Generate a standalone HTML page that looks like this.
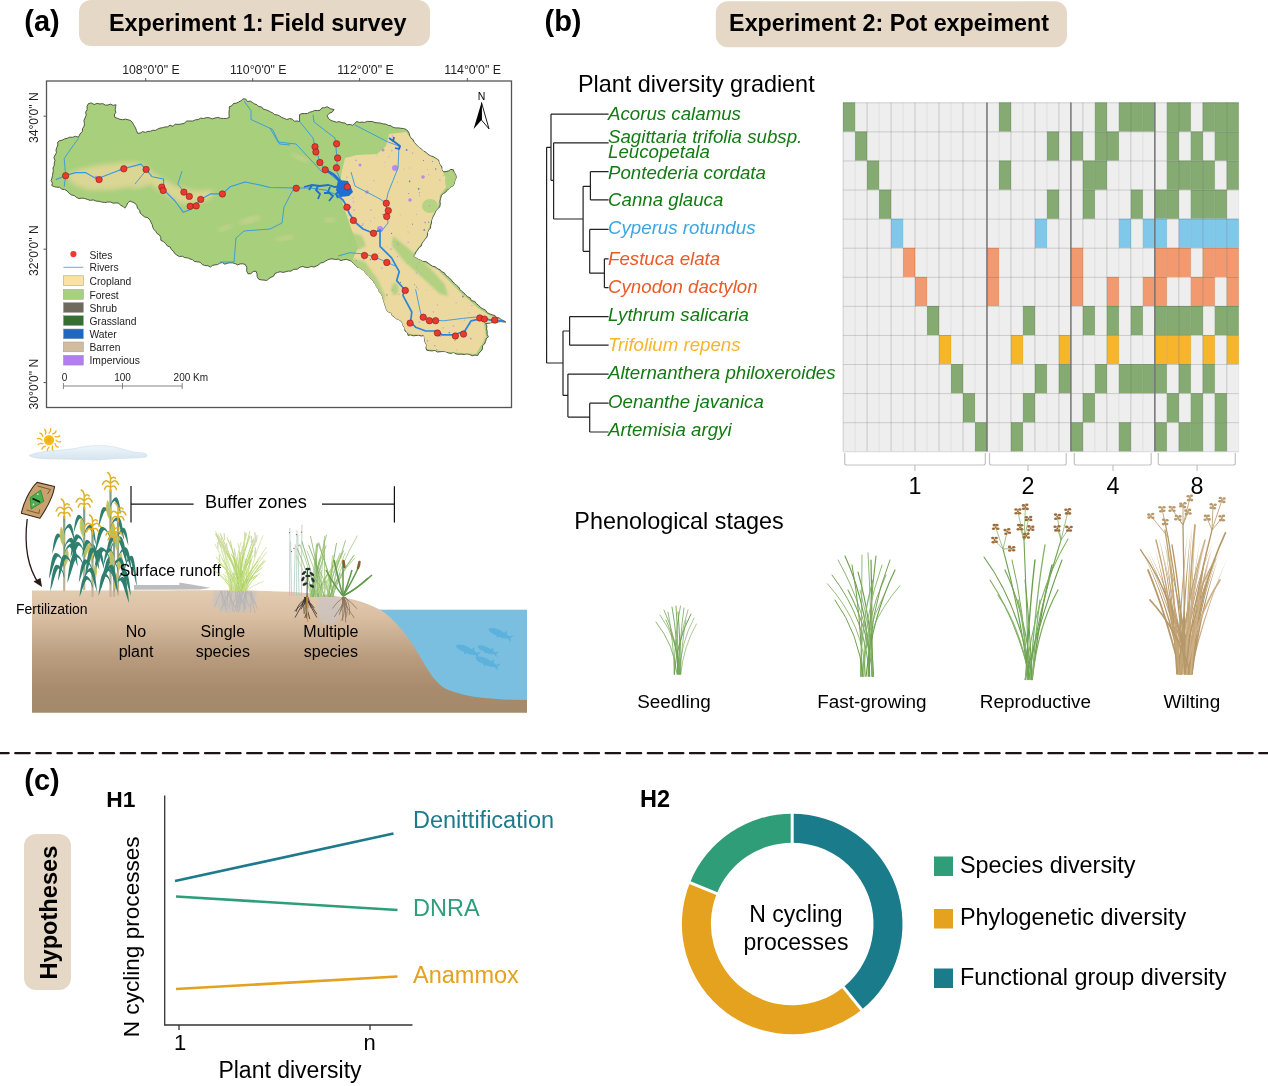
<!DOCTYPE html><html><head><meta charset="utf-8"><style>html,body{margin:0;padding:0;background:#fff;width:1268px;height:1086px;overflow:hidden}svg{display:block;position:absolute;left:0;top:0;will-change:transform}text{font-family:"Liberation Sans",sans-serif}</style></head><body>
<svg width="1268" height="1086" viewBox="0 0 1268 1086">
<defs><filter id="blur1" x="-30%" y="-30%" width="160%" height="160%"><feGaussianBlur stdDeviation="1.2"/></filter></defs>
<rect x="79" y="0" width="351" height="46" rx="12" fill="#e6d8c7"/>
<rect x="715.8" y="1.3" width="351.2" height="46" rx="12" fill="#e6d8c7"/>
<text x="24.3" y="31" font-size="29" font-weight="bold">(a)</text>
<text x="544.5" y="31" font-size="29" font-weight="bold">(b)</text>
<text x="24.3" y="790" font-size="29" font-weight="bold">(c)</text>
<text x="257.8" y="31" font-size="23.4" font-weight="bold" text-anchor="middle">Experiment 1: Field survey</text>
<text x="889" y="31" font-size="23.3" font-weight="bold" text-anchor="middle">Experiment 2: Pot expeiment</text>
<g id="map">
<rect x="46.5" y="81" width="465" height="326.5" fill="none" stroke="#555" stroke-width="1.3"/>
<line x1="145.7" y1="78" x2="145.7" y2="81" stroke="#555" stroke-width="1"/>
<line x1="252.7" y1="78" x2="252.7" y2="81" stroke="#555" stroke-width="1"/>
<line x1="359.6" y1="78" x2="359.6" y2="81" stroke="#555" stroke-width="1"/>
<line x1="467.3" y1="78" x2="467.3" y2="81" stroke="#555" stroke-width="1"/>
<line x1="43.5" y1="116.2" x2="46.5" y2="116.2" stroke="#555" stroke-width="1"/>
<line x1="43.5" y1="249.2" x2="46.5" y2="249.2" stroke="#555" stroke-width="1"/>
<line x1="43.5" y1="382.6" x2="46.5" y2="382.6" stroke="#555" stroke-width="1"/>
<text x="150.9" y="74" font-size="12.3" text-anchor="middle" fill="#222">108°0'0" E</text>
<text x="258.3" y="74" font-size="12.3" text-anchor="middle" fill="#222">110°0'0" E</text>
<text x="365.4" y="74" font-size="12.3" text-anchor="middle" fill="#222">112°0'0" E</text>
<text x="472.6" y="74" font-size="12.3" text-anchor="middle" fill="#222">114°0'0" E</text>
<text transform="translate(38.3,117.7) rotate(-90)" font-size="12.2" text-anchor="middle" fill="#222">34°0'0" N</text>
<text transform="translate(38.3,250.7) rotate(-90)" font-size="12.2" text-anchor="middle" fill="#222">32°0'0" N</text>
<text transform="translate(38.3,384.1) rotate(-90)" font-size="12.2" text-anchor="middle" fill="#222">30°0'0" N</text>
<polygon points="52.0,178.0 52.5,175.5 52.9,173.0 53.3,170.6 53.0,168.0 54.2,165.6 54.3,162.9 55.0,160.4 53.9,157.6 55.1,155.1 56.4,152.7 56.0,150.0 56.8,147.5 57.8,145.0 57.7,142.2 59.8,140.6 62.4,140.1 64.7,138.8 67.3,138.3 69.6,137.2 72.5,137.3 75.5,136.3 78.4,137.2 80.0,134.0 82.4,131.3 82.5,128.6 84.2,126.1 84.4,123.4 83.9,120.5 85.0,118.0 86.2,115.3 85.7,112.1 87.2,109.5 87.0,106.4 88.3,103.7 91.2,102.9 94.1,104.5 97.1,103.4 100.0,104.0 102.7,103.6 105.3,105.1 107.9,105.0 110.6,104.1 113.2,105.4 115.9,104.7 115.6,107.3 115.2,109.8 115.8,112.4 114.3,114.9 114.9,117.5 117.5,118.3 120.0,119.3 122.7,119.7 125.5,119.1 128.1,119.8 130.7,120.5 132.6,122.8 134.0,125.3 135.5,127.8 136.5,130.6 137.6,133.3 140.2,133.1 142.6,131.6 145.3,132.4 147.8,131.4 150.4,131.3 152.7,130.3 155.4,130.4 157.7,129.1 160.0,128.1 162.6,127.7 165.0,127.0 167.7,126.8 170.0,125.2 173.0,126.3 175.2,124.1 178.0,124.4 181.1,124.0 184.2,123.3 186.8,121.0 190.0,121.0 192.8,121.0 195.4,119.8 198.2,119.6 200.7,118.1 203.6,118.5 206.4,117.6 209.3,117.7 212.2,118.9 215.0,118.0 217.8,117.4 220.7,118.3 223.6,118.5 226.5,118.4 229.3,117.5 229.0,114.8 229.0,112.1 229.3,109.4 229.3,106.7 231.8,105.8 233.5,103.5 236.4,103.1 238.8,101.9 241.1,100.7 243.1,98.8 245.7,99.0 247.4,101.5 250.3,101.1 252.4,102.5 254.5,103.9 256.9,104.7 258.7,106.6 261.5,106.9 263.2,109.1 265.7,109.7 268.1,110.6 270.3,111.8 272.7,112.9 274.6,114.6 277.3,114.9 279.6,115.9 281.8,117.5 284.3,118.4 286.7,119.5 289.6,118.6 292.1,119.0 294.3,121.2 297.0,121.0 299.6,121.5 299.4,118.0 299.6,114.6 302.0,113.6 304.7,113.6 307.3,113.5 309.7,112.2 312.2,111.6 314.6,110.4 317.3,110.6 320.0,110.3 321.9,107.9 324.7,107.7 327.2,106.7 330.4,108.7 334.1,109.6 332.2,112.1 329.2,113.3 327.2,115.6 328.5,118.6 331.1,120.5 333.8,121.3 336.4,122.2 339.4,121.6 342.0,122.8 344.8,122.9 347.2,124.8 350.2,124.4 352.8,125.4 354.7,123.4 356.8,121.5 359.4,122.4 362.0,122.1 364.6,122.4 367.3,121.4 369.9,121.5 372.5,121.5 375.0,122.6 377.8,122.8 380.5,123.1 383.1,123.9 385.8,124.1 388.3,125.4 390.9,125.8 393.2,127.4 395.7,127.9 398.4,127.9 400.9,128.3 403.5,128.5 406.0,129.4 408.0,131.1 409.2,133.4 409.8,136.0 411.1,138.2 413.3,139.8 414.1,142.3 415.9,144.1 417.5,146.1 419.6,147.7 421.6,149.3 423.5,151.1 425.9,152.2 427.7,154.0 430.2,155.8 433.3,156.6 435.9,158.4 438.6,159.9 439.1,162.5 440.2,164.8 441.9,166.9 441.8,169.7 443.5,171.8 446.0,171.6 448.5,170.9 450.8,169.4 453.4,169.8 454.3,172.5 455.8,174.9 456.3,177.7 455.0,180.2 454.4,183.0 453.4,185.6 451.1,186.8 449.3,188.7 447.1,190.1 445.6,192.3 443.3,193.6 441.5,195.4 440.6,198.3 440.0,201.2 440.3,204.3 439.6,207.2 437.5,208.9 435.9,210.9 434.8,213.4 433.7,215.7 432.4,217.9 431.6,220.4 431.5,223.0 430.7,225.4 430.5,228.1 428.6,230.1 427.6,232.4 427.5,235.1 426.7,237.5 424.9,239.4 423.4,241.4 421.9,243.5 421.2,246.2 418.8,247.7 417.6,249.9 416.0,251.9 414.9,254.3 413.3,256.3 415.6,257.7 418.0,259.2 420.5,260.2 422.9,261.5 425.9,261.6 428.2,263.1 430.4,264.7 432.7,266.3 435.5,266.8 437.5,268.8 440.1,269.7 441.7,271.7 444.3,272.7 445.5,275.0 447.6,276.5 449.6,278.1 451.3,280.0 452.9,282.0 454.8,283.6 456.6,285.4 458.6,287.0 459.9,289.4 461.6,291.2 463.8,292.8 465.6,294.9 467.7,296.7 470.2,298.0 471.5,300.7 474.7,301.3 476.3,303.6 478.5,305.2 480.3,307.3 482.8,308.8 485.5,310.1 487.2,312.8 490.0,314.0 492.4,314.9 494.9,315.5 496.7,317.6 499.4,317.9 501.2,319.8 503.7,320.6 505.8,322.0 503.3,322.0 500.7,321.5 498.2,322.0 495.8,322.8 493.2,322.3 490.7,322.8 488.2,323.5 485.7,323.4 486.9,326.0 486.6,328.8 487.2,331.5 487.1,334.3 488.4,336.8 486.3,338.7 485.6,341.4 484.6,343.9 482.4,345.8 482.5,348.9 481.0,351.2 478.9,353.1 477.7,355.5 475.0,355.1 472.3,355.7 469.7,354.6 467.0,353.9 464.3,354.5 461.6,354.2 458.9,354.3 456.2,354.0 453.6,352.5 450.9,353.4 448.2,352.9 445.6,351.7 442.9,351.5 440.2,351.7 437.4,352.0 434.9,350.4 432.1,350.9 429.4,350.7 426.7,350.2 425.9,347.8 426.7,345.1 425.3,342.8 424.5,340.4 424.4,337.9 424.0,335.4 421.3,336.1 418.7,335.2 416.0,335.5 413.3,335.8 410.7,334.9 408.0,335.4 407.5,332.8 405.0,331.0 404.8,328.2 403.3,326.0 402.6,323.4 401.1,321.1 398.9,319.7 396.3,318.7 394.3,317.0 392.1,315.5 391.1,312.7 388.3,312.0 386.5,310.0 385.8,307.3 384.7,304.6 384.0,301.9 383.1,299.2 382.4,296.4 381.1,293.9 379.2,292.0 378.8,289.2 376.8,287.4 375.8,284.9 374.2,282.9 373.1,280.5 371.1,279.0 369.6,276.9 367.7,275.1 365.8,273.5 364.5,271.2 362.4,269.7 360.3,268.0 357.5,267.2 355.4,265.4 353.4,263.5 351.7,261.3 349.0,260.3 346.4,259.4 343.6,259.8 340.9,260.6 338.3,259.1 335.6,259.5 332.9,259.0 330.2,259.0 327.7,259.8 325.5,261.1 323.3,262.5 320.6,262.9 318.7,264.9 316.4,266.0 314.0,267.0 311.2,266.4 308.4,267.6 305.6,267.4 302.8,266.5 300.0,267.1 297.3,269.2 293.7,269.3 290.9,271.2 288.2,271.1 285.6,271.8 282.9,272.4 280.1,271.7 277.5,272.5 274.9,273.5 273.6,276.2 271.0,277.3 268.8,278.8 266.7,280.5 264.0,280.1 261.3,279.9 258.7,279.2 257.2,276.7 257.0,273.8 256.0,271.2 253.2,271.5 250.9,273.7 248.0,273.8 246.6,270.8 246.8,267.4 245.3,264.5 242.8,263.8 240.2,263.9 237.6,264.9 235.1,263.5 232.6,262.9 230.0,262.8 227.5,263.2 224.9,264.2 222.4,262.6 219.8,263.1 217.6,264.6 215.0,264.9 212.4,265.4 210.4,267.1 207.9,265.7 204.8,265.6 202.2,264.3 200.0,262.2 197.0,261.8 194.4,261.4 192.4,259.6 189.9,258.9 187.6,257.8 184.8,257.7 182.3,256.2 179.4,256.6 176.9,255.1 174.7,253.5 173.4,251.2 171.3,249.5 170.2,247.0 167.4,246.0 165.6,243.5 163.4,241.6 160.8,240.3 160.8,237.5 159.5,235.0 157.2,233.7 155.8,231.5 154.1,229.6 152.8,227.4 152.3,224.8 151.1,222.6 150.1,220.2 147.9,217.8 144.6,216.9 142.1,214.9 140.1,213.0 139.7,210.2 137.5,208.4 136.9,205.7 135.4,203.5 132.7,202.2 130.0,201.0 127.7,203.0 126.5,205.7 124.8,208.2 123.0,206.4 120.6,205.3 118.9,203.3 116.1,202.9 113.2,203.2 110.5,202.0 107.6,202.1 104.7,202.5 101.9,202.1 99.1,201.3 96.1,201.1 93.3,199.9 90.2,200.4 87.3,199.4 84.7,198.5 82.0,198.1 79.1,198.6 76.5,197.4 74.3,195.6 71.3,194.9 69.0,193.2 67.1,190.9 64.6,189.5 61.9,189.2 59.7,187.3 56.9,187.2 54.3,186.7 51.8,185.6 52.4,183.1 51.1,180.5" fill="#a8cf7c" stroke="#3f4a35" stroke-width="0.9"/>
<clipPath id="bclip"><polygon points="52.0,178.0 52.5,175.5 52.9,173.0 53.3,170.6 53.0,168.0 54.2,165.6 54.3,162.9 55.0,160.4 53.9,157.6 55.1,155.1 56.4,152.7 56.0,150.0 56.8,147.5 57.8,145.0 57.7,142.2 59.8,140.6 62.4,140.1 64.7,138.8 67.3,138.3 69.6,137.2 72.5,137.3 75.5,136.3 78.4,137.2 80.0,134.0 82.4,131.3 82.5,128.6 84.2,126.1 84.4,123.4 83.9,120.5 85.0,118.0 86.2,115.3 85.7,112.1 87.2,109.5 87.0,106.4 88.3,103.7 91.2,102.9 94.1,104.5 97.1,103.4 100.0,104.0 102.7,103.6 105.3,105.1 107.9,105.0 110.6,104.1 113.2,105.4 115.9,104.7 115.6,107.3 115.2,109.8 115.8,112.4 114.3,114.9 114.9,117.5 117.5,118.3 120.0,119.3 122.7,119.7 125.5,119.1 128.1,119.8 130.7,120.5 132.6,122.8 134.0,125.3 135.5,127.8 136.5,130.6 137.6,133.3 140.2,133.1 142.6,131.6 145.3,132.4 147.8,131.4 150.4,131.3 152.7,130.3 155.4,130.4 157.7,129.1 160.0,128.1 162.6,127.7 165.0,127.0 167.7,126.8 170.0,125.2 173.0,126.3 175.2,124.1 178.0,124.4 181.1,124.0 184.2,123.3 186.8,121.0 190.0,121.0 192.8,121.0 195.4,119.8 198.2,119.6 200.7,118.1 203.6,118.5 206.4,117.6 209.3,117.7 212.2,118.9 215.0,118.0 217.8,117.4 220.7,118.3 223.6,118.5 226.5,118.4 229.3,117.5 229.0,114.8 229.0,112.1 229.3,109.4 229.3,106.7 231.8,105.8 233.5,103.5 236.4,103.1 238.8,101.9 241.1,100.7 243.1,98.8 245.7,99.0 247.4,101.5 250.3,101.1 252.4,102.5 254.5,103.9 256.9,104.7 258.7,106.6 261.5,106.9 263.2,109.1 265.7,109.7 268.1,110.6 270.3,111.8 272.7,112.9 274.6,114.6 277.3,114.9 279.6,115.9 281.8,117.5 284.3,118.4 286.7,119.5 289.6,118.6 292.1,119.0 294.3,121.2 297.0,121.0 299.6,121.5 299.4,118.0 299.6,114.6 302.0,113.6 304.7,113.6 307.3,113.5 309.7,112.2 312.2,111.6 314.6,110.4 317.3,110.6 320.0,110.3 321.9,107.9 324.7,107.7 327.2,106.7 330.4,108.7 334.1,109.6 332.2,112.1 329.2,113.3 327.2,115.6 328.5,118.6 331.1,120.5 333.8,121.3 336.4,122.2 339.4,121.6 342.0,122.8 344.8,122.9 347.2,124.8 350.2,124.4 352.8,125.4 354.7,123.4 356.8,121.5 359.4,122.4 362.0,122.1 364.6,122.4 367.3,121.4 369.9,121.5 372.5,121.5 375.0,122.6 377.8,122.8 380.5,123.1 383.1,123.9 385.8,124.1 388.3,125.4 390.9,125.8 393.2,127.4 395.7,127.9 398.4,127.9 400.9,128.3 403.5,128.5 406.0,129.4 408.0,131.1 409.2,133.4 409.8,136.0 411.1,138.2 413.3,139.8 414.1,142.3 415.9,144.1 417.5,146.1 419.6,147.7 421.6,149.3 423.5,151.1 425.9,152.2 427.7,154.0 430.2,155.8 433.3,156.6 435.9,158.4 438.6,159.9 439.1,162.5 440.2,164.8 441.9,166.9 441.8,169.7 443.5,171.8 446.0,171.6 448.5,170.9 450.8,169.4 453.4,169.8 454.3,172.5 455.8,174.9 456.3,177.7 455.0,180.2 454.4,183.0 453.4,185.6 451.1,186.8 449.3,188.7 447.1,190.1 445.6,192.3 443.3,193.6 441.5,195.4 440.6,198.3 440.0,201.2 440.3,204.3 439.6,207.2 437.5,208.9 435.9,210.9 434.8,213.4 433.7,215.7 432.4,217.9 431.6,220.4 431.5,223.0 430.7,225.4 430.5,228.1 428.6,230.1 427.6,232.4 427.5,235.1 426.7,237.5 424.9,239.4 423.4,241.4 421.9,243.5 421.2,246.2 418.8,247.7 417.6,249.9 416.0,251.9 414.9,254.3 413.3,256.3 415.6,257.7 418.0,259.2 420.5,260.2 422.9,261.5 425.9,261.6 428.2,263.1 430.4,264.7 432.7,266.3 435.5,266.8 437.5,268.8 440.1,269.7 441.7,271.7 444.3,272.7 445.5,275.0 447.6,276.5 449.6,278.1 451.3,280.0 452.9,282.0 454.8,283.6 456.6,285.4 458.6,287.0 459.9,289.4 461.6,291.2 463.8,292.8 465.6,294.9 467.7,296.7 470.2,298.0 471.5,300.7 474.7,301.3 476.3,303.6 478.5,305.2 480.3,307.3 482.8,308.8 485.5,310.1 487.2,312.8 490.0,314.0 492.4,314.9 494.9,315.5 496.7,317.6 499.4,317.9 501.2,319.8 503.7,320.6 505.8,322.0 503.3,322.0 500.7,321.5 498.2,322.0 495.8,322.8 493.2,322.3 490.7,322.8 488.2,323.5 485.7,323.4 486.9,326.0 486.6,328.8 487.2,331.5 487.1,334.3 488.4,336.8 486.3,338.7 485.6,341.4 484.6,343.9 482.4,345.8 482.5,348.9 481.0,351.2 478.9,353.1 477.7,355.5 475.0,355.1 472.3,355.7 469.7,354.6 467.0,353.9 464.3,354.5 461.6,354.2 458.9,354.3 456.2,354.0 453.6,352.5 450.9,353.4 448.2,352.9 445.6,351.7 442.9,351.5 440.2,351.7 437.4,352.0 434.9,350.4 432.1,350.9 429.4,350.7 426.7,350.2 425.9,347.8 426.7,345.1 425.3,342.8 424.5,340.4 424.4,337.9 424.0,335.4 421.3,336.1 418.7,335.2 416.0,335.5 413.3,335.8 410.7,334.9 408.0,335.4 407.5,332.8 405.0,331.0 404.8,328.2 403.3,326.0 402.6,323.4 401.1,321.1 398.9,319.7 396.3,318.7 394.3,317.0 392.1,315.5 391.1,312.7 388.3,312.0 386.5,310.0 385.8,307.3 384.7,304.6 384.0,301.9 383.1,299.2 382.4,296.4 381.1,293.9 379.2,292.0 378.8,289.2 376.8,287.4 375.8,284.9 374.2,282.9 373.1,280.5 371.1,279.0 369.6,276.9 367.7,275.1 365.8,273.5 364.5,271.2 362.4,269.7 360.3,268.0 357.5,267.2 355.4,265.4 353.4,263.5 351.7,261.3 349.0,260.3 346.4,259.4 343.6,259.8 340.9,260.6 338.3,259.1 335.6,259.5 332.9,259.0 330.2,259.0 327.7,259.8 325.5,261.1 323.3,262.5 320.6,262.9 318.7,264.9 316.4,266.0 314.0,267.0 311.2,266.4 308.4,267.6 305.6,267.4 302.8,266.5 300.0,267.1 297.3,269.2 293.7,269.3 290.9,271.2 288.2,271.1 285.6,271.8 282.9,272.4 280.1,271.7 277.5,272.5 274.9,273.5 273.6,276.2 271.0,277.3 268.8,278.8 266.7,280.5 264.0,280.1 261.3,279.9 258.7,279.2 257.2,276.7 257.0,273.8 256.0,271.2 253.2,271.5 250.9,273.7 248.0,273.8 246.6,270.8 246.8,267.4 245.3,264.5 242.8,263.8 240.2,263.9 237.6,264.9 235.1,263.5 232.6,262.9 230.0,262.8 227.5,263.2 224.9,264.2 222.4,262.6 219.8,263.1 217.6,264.6 215.0,264.9 212.4,265.4 210.4,267.1 207.9,265.7 204.8,265.6 202.2,264.3 200.0,262.2 197.0,261.8 194.4,261.4 192.4,259.6 189.9,258.9 187.6,257.8 184.8,257.7 182.3,256.2 179.4,256.6 176.9,255.1 174.7,253.5 173.4,251.2 171.3,249.5 170.2,247.0 167.4,246.0 165.6,243.5 163.4,241.6 160.8,240.3 160.8,237.5 159.5,235.0 157.2,233.7 155.8,231.5 154.1,229.6 152.8,227.4 152.3,224.8 151.1,222.6 150.1,220.2 147.9,217.8 144.6,216.9 142.1,214.9 140.1,213.0 139.7,210.2 137.5,208.4 136.9,205.7 135.4,203.5 132.7,202.2 130.0,201.0 127.7,203.0 126.5,205.7 124.8,208.2 123.0,206.4 120.6,205.3 118.9,203.3 116.1,202.9 113.2,203.2 110.5,202.0 107.6,202.1 104.7,202.5 101.9,202.1 99.1,201.3 96.1,201.1 93.3,199.9 90.2,200.4 87.3,199.4 84.7,198.5 82.0,198.1 79.1,198.6 76.5,197.4 74.3,195.6 71.3,194.9 69.0,193.2 67.1,190.9 64.6,189.5 61.9,189.2 59.7,187.3 56.9,187.2 54.3,186.7 51.8,185.6 52.4,183.1 51.1,180.5"/></clipPath>
<g clip-path="url(#bclip)">
<filter id="blur2" x="-20%" y="-20%" width="140%" height="140%"><feGaussianBlur stdDeviation="2.5"/></filter>
<polygon points="66.0,174.0 80.0,169.0 98.0,165.0 118.0,163.0 136.0,162.0 146.0,166.0 152.0,172.0 162.0,178.0 176.0,186.0 195.0,191.0 214.0,190.0 212.0,197.0 200.0,203.0 182.0,204.0 166.0,195.0 150.0,184.0 130.0,187.0 110.0,190.0 88.0,190.0 72.0,184.0" fill="#ecd89c" opacity="0.75" filter="url(#blur2)"/>
<polygon points="345.0,158.0 357.0,155.0 377.0,154.0 386.0,146.0 389.0,134.0 406.0,132.0 416.0,145.0 428.0,155.0 438.0,160.0 443.0,172.0 446.0,178.0 447.0,186.0 440.0,195.0 438.0,207.0 433.0,215.0 426.0,237.0 412.0,256.0 438.0,270.0 460.0,292.0 478.0,308.0 500.0,322.0 484.0,323.0 486.0,337.0 476.0,354.0 448.0,352.0 427.0,349.0 423.0,335.0 408.0,334.0 401.0,323.0 386.0,310.0 380.0,294.0 372.0,281.0 361.0,270.0 352.0,261.0 358.0,248.0 350.0,225.0 343.0,205.0 341.0,188.0 341.0,175.0" fill="#ecd9a0"/>
<ellipse cx="430" cy="206" rx="8" ry="7" fill="#b0d080" opacity="0.9"/>
<ellipse cx="451" cy="181" rx="6" ry="10" fill="#b0d080" opacity="0.9"/>
<circle cx="416.4" cy="214.4" r="0.5" fill="#b98be8" opacity="0.8"/>
<circle cx="416.5" cy="266.7" r="0.7" fill="#2a6fc8" opacity="0.8"/>
<circle cx="402.5" cy="289.0" r="0.9" fill="#c6a0e8" opacity="0.8"/>
<circle cx="409.7" cy="168.1" r="0.5" fill="#b98be8" opacity="0.8"/>
<circle cx="437.4" cy="305.0" r="0.8" fill="#c6a0e8" opacity="0.8"/>
<circle cx="373.8" cy="180.7" r="0.8" fill="#c6a0e8" opacity="0.8"/>
<circle cx="467.5" cy="336.0" r="0.5" fill="#c6a0e8" opacity="0.8"/>
<circle cx="349.0" cy="215.6" r="0.5" fill="#c6a0e8" opacity="0.8"/>
<circle cx="428.7" cy="174.8" r="0.6" fill="#b98be8" opacity="0.8"/>
<circle cx="435.7" cy="169.0" r="0.8" fill="#3f7fb0" opacity="0.8"/>
<circle cx="346.8" cy="191.0" r="0.8" fill="#3f7fb0" opacity="0.8"/>
<circle cx="462.9" cy="296.5" r="0.9" fill="#3f7fb0" opacity="0.8"/>
<circle cx="400.4" cy="282.4" r="0.7" fill="#3f7fb0" opacity="0.8"/>
<circle cx="453.5" cy="326.0" r="0.8" fill="#b98be8" opacity="0.8"/>
<circle cx="411.5" cy="178.2" r="0.5" fill="#c6a0e8" opacity="0.8"/>
<circle cx="387.0" cy="247.0" r="0.4" fill="#b98be8" opacity="0.8"/>
<circle cx="468.8" cy="312.5" r="0.6" fill="#c6a0e8" opacity="0.8"/>
<circle cx="432.5" cy="161.4" r="0.5" fill="#2a6fc8" opacity="0.8"/>
<circle cx="374.4" cy="217.9" r="0.4" fill="#3f7fb0" opacity="0.8"/>
<circle cx="419.4" cy="192.8" r="0.8" fill="#b98be8" opacity="0.8"/>
<circle cx="388.8" cy="156.7" r="0.6" fill="#c6a0e8" opacity="0.8"/>
<circle cx="456.1" cy="302.7" r="0.7" fill="#c6a0e8" opacity="0.8"/>
<circle cx="385.2" cy="265.0" r="0.6" fill="#3f7fb0" opacity="0.8"/>
<circle cx="427.3" cy="169.2" r="0.5" fill="#b98be8" opacity="0.8"/>
<circle cx="470.3" cy="324.2" r="0.5" fill="#b98be8" opacity="0.8"/>
<circle cx="404.1" cy="169.1" r="0.7" fill="#c6a0e8" opacity="0.8"/>
<circle cx="390.9" cy="249.1" r="0.8" fill="#b98be8" opacity="0.8"/>
<circle cx="434.7" cy="345.9" r="0.8" fill="#b98be8" opacity="0.8"/>
<circle cx="420.9" cy="273.9" r="0.7" fill="#b98be8" opacity="0.8"/>
<circle cx="344.8" cy="185.1" r="0.5" fill="#c6a0e8" opacity="0.8"/>
<circle cx="443.1" cy="327.9" r="0.7" fill="#b98be8" opacity="0.8"/>
<circle cx="407.6" cy="263.0" r="0.5" fill="#b98be8" opacity="0.8"/>
<circle cx="440.3" cy="171.0" r="0.4" fill="#b98be8" opacity="0.8"/>
<circle cx="418.3" cy="289.0" r="0.6" fill="#b98be8" opacity="0.8"/>
<circle cx="397.5" cy="182.3" r="0.5" fill="#b98be8" opacity="0.8"/>
<circle cx="376.5" cy="155.0" r="0.4" fill="#b98be8" opacity="0.8"/>
<circle cx="443.4" cy="175.4" r="0.5" fill="#b98be8" opacity="0.8"/>
<circle cx="382.3" cy="247.0" r="0.4" fill="#b98be8" opacity="0.8"/>
<circle cx="381.8" cy="268.0" r="0.7" fill="#b98be8" opacity="0.8"/>
<circle cx="408.8" cy="333.2" r="0.8" fill="#c6a0e8" opacity="0.8"/>
<circle cx="439.9" cy="179.9" r="0.7" fill="#b98be8" opacity="0.8"/>
<circle cx="370.8" cy="209.9" r="0.9" fill="#c6a0e8" opacity="0.8"/>
<circle cx="484.6" cy="337.9" r="0.4" fill="#b98be8" opacity="0.8"/>
<circle cx="412.5" cy="224.1" r="0.6" fill="#2a6fc8" opacity="0.8"/>
<circle cx="397.2" cy="319.2" r="0.6" fill="#c6a0e8" opacity="0.8"/>
<circle cx="353.0" cy="198.0" r="0.7" fill="#c6a0e8" opacity="0.8"/>
<circle cx="370.7" cy="220.9" r="0.4" fill="#2a6fc8" opacity="0.8"/>
<circle cx="392.4" cy="136.1" r="0.8" fill="#b98be8" opacity="0.8"/>
<circle cx="413.8" cy="267.1" r="0.5" fill="#c6a0e8" opacity="0.8"/>
<circle cx="429.4" cy="205.8" r="0.7" fill="#b98be8" opacity="0.8"/>
<circle cx="409.6" cy="181.4" r="0.8" fill="#2a6fc8" opacity="0.8"/>
<circle cx="391.9" cy="150.7" r="0.5" fill="#2a6fc8" opacity="0.8"/>
<circle cx="423.5" cy="160.5" r="0.6" fill="#2a6fc8" opacity="0.8"/>
<circle cx="384.5" cy="202.4" r="0.7" fill="#c6a0e8" opacity="0.8"/>
<circle cx="471.9" cy="305.6" r="0.7" fill="#b98be8" opacity="0.8"/>
<circle cx="385.0" cy="162.5" r="0.6" fill="#c6a0e8" opacity="0.8"/>
<circle cx="386.0" cy="207.8" r="0.5" fill="#3f7fb0" opacity="0.8"/>
<circle cx="355.9" cy="160.4" r="0.8" fill="#b98be8" opacity="0.8"/>
<circle cx="362.2" cy="225.5" r="0.5" fill="#3f7fb0" opacity="0.8"/>
<circle cx="416.5" cy="272.9" r="0.7" fill="#b98be8" opacity="0.8"/>
<circle cx="354.0" cy="210.1" r="0.8" fill="#b98be8" opacity="0.8"/>
<circle cx="427.6" cy="340.8" r="0.6" fill="#3f7fb0" opacity="0.8"/>
<circle cx="436.8" cy="349.4" r="0.5" fill="#2a6fc8" opacity="0.8"/>
<circle cx="361.4" cy="197.3" r="0.4" fill="#b98be8" opacity="0.8"/>
<circle cx="416.6" cy="287.0" r="0.5" fill="#2a6fc8" opacity="0.8"/>
<circle cx="363.7" cy="259.8" r="0.7" fill="#b98be8" opacity="0.8"/>
<circle cx="471.2" cy="338.9" r="0.8" fill="#c6a0e8" opacity="0.8"/>
<circle cx="470.3" cy="338.4" r="0.8" fill="#b98be8" opacity="0.8"/>
<circle cx="363.1" cy="224.0" r="0.8" fill="#b98be8" opacity="0.8"/>
<circle cx="383.1" cy="214.5" r="0.7" fill="#2a6fc8" opacity="0.8"/>
<circle cx="397.5" cy="256.5" r="0.7" fill="#b98be8" opacity="0.8"/>
<circle cx="432.0" cy="289.4" r="0.4" fill="#b98be8" opacity="0.8"/>
<circle cx="407.4" cy="226.3" r="0.4" fill="#b98be8" opacity="0.8"/>
<circle cx="449.3" cy="332.7" r="0.8" fill="#2a6fc8" opacity="0.8"/>
<circle cx="425.1" cy="222.4" r="0.9" fill="#b98be8" opacity="0.8"/>
<circle cx="391.6" cy="233.4" r="0.6" fill="#2a6fc8" opacity="0.8"/>
<circle cx="399.2" cy="294.5" r="0.6" fill="#b98be8" opacity="0.8"/>
<circle cx="400.2" cy="214.6" r="0.7" fill="#c6a0e8" opacity="0.8"/>
<circle cx="393.2" cy="241.8" r="0.6" fill="#2a6fc8" opacity="0.8"/>
<circle cx="344.9" cy="196.0" r="0.7" fill="#b98be8" opacity="0.8"/>
<circle cx="412.7" cy="153.1" r="0.5" fill="#3f7fb0" opacity="0.8"/>
<circle cx="462.9" cy="331.0" r="0.6" fill="#b98be8" opacity="0.8"/>
<circle cx="386.9" cy="294.9" r="0.7" fill="#3f7fb0" opacity="0.8"/>
<circle cx="391.8" cy="283.9" r="0.4" fill="#c6a0e8" opacity="0.8"/>
<circle cx="427.7" cy="290.3" r="0.4" fill="#b98be8" opacity="0.8"/>
<circle cx="464.4" cy="320.1" r="0.4" fill="#2a6fc8" opacity="0.8"/>
<circle cx="418.9" cy="262.8" r="0.7" fill="#3f7fb0" opacity="0.8"/>
<circle cx="408.1" cy="242.3" r="0.7" fill="#b98be8" opacity="0.8"/>
<circle cx="342.0" cy="194.4" r="0.4" fill="#3f7fb0" opacity="0.8"/>
<circle cx="424.3" cy="229.9" r="0.9" fill="#3f7fb0" opacity="0.8"/>
<circle cx="392.3" cy="290.0" r="0.6" fill="#2a6fc8" opacity="0.8"/>
<circle cx="455.3" cy="335.5" r="0.5" fill="#3f7fb0" opacity="0.8"/>
<circle cx="408.1" cy="232.1" r="0.6" fill="#c6a0e8" opacity="0.8"/>
<circle cx="346.9" cy="177.3" r="0.7" fill="#b98be8" opacity="0.8"/>
<circle cx="419.5" cy="195.7" r="0.6" fill="#b98be8" opacity="0.8"/>
<circle cx="366.2" cy="272.2" r="0.5" fill="#2a6fc8" opacity="0.8"/>
<circle cx="456.8" cy="350.0" r="0.6" fill="#b98be8" opacity="0.8"/>
<circle cx="428.7" cy="222.2" r="0.6" fill="#2a6fc8" opacity="0.8"/>
<circle cx="406.6" cy="149.9" r="0.9" fill="#2a6fc8" opacity="0.8"/>
<circle cx="362.1" cy="243.0" r="0.5" fill="#3f7fb0" opacity="0.8"/>
<circle cx="379.0" cy="253.5" r="0.5" fill="#b98be8" opacity="0.8"/>
<circle cx="414.7" cy="284.8" r="0.5" fill="#2a6fc8" opacity="0.8"/>
<circle cx="384.1" cy="166.3" r="0.4" fill="#b98be8" opacity="0.8"/>
<circle cx="433.3" cy="311.9" r="0.7" fill="#b98be8" opacity="0.8"/>
<circle cx="408.6" cy="193.5" r="0.5" fill="#3f7fb0" opacity="0.8"/>
<circle cx="418.7" cy="188.8" r="0.9" fill="#2a6fc8" opacity="0.8"/>
<circle cx="356.1" cy="260.7" r="0.7" fill="#2a6fc8" opacity="0.8"/>
<circle cx="426.2" cy="321.1" r="0.5" fill="#2a6fc8" opacity="0.8"/>
<circle cx="462.6" cy="321.9" r="0.4" fill="#b98be8" opacity="0.8"/>
<circle cx="419.3" cy="322.2" r="0.8" fill="#b98be8" opacity="0.8"/>
<circle cx="353.4" cy="202.1" r="0.8" fill="#c6a0e8" opacity="0.8"/>
<circle cx="370.5" cy="259.5" r="0.7" fill="#2a6fc8" opacity="0.8"/>
<circle cx="400.2" cy="147.7" r="0.8" fill="#b98be8" opacity="0.8"/>
<circle cx="455.0" cy="340.4" r="0.5" fill="#3f7fb0" opacity="0.8"/>
<circle cx="395" cy="168" r="3" fill="#b98be8"/>
<circle cx="380" cy="229" r="3" fill="#b98be8"/>
<circle cx="367" cy="192" r="1.8" fill="#b98be8"/>
<circle cx="410" cy="200" r="1.8" fill="#b98be8"/>
<circle cx="423" cy="177" r="1.8" fill="#b98be8"/>
<circle cx="383" cy="150" r="1.5" fill="#b98be8"/>
<circle cx="360" cy="165" r="1.5" fill="#b98be8"/>
<circle cx="398" cy="244" r="1.5" fill="#b98be8"/>
<circle cx="440" cy="335" r="1.8" fill="#b98be8"/>
<circle cx="100" cy="179" r="1.5" fill="#b98be8"/>
<circle cx="96" cy="177" r="1.2" fill="#b98be8"/>
<circle cx="120" cy="170" r="1.0" fill="#b98be8"/>
<circle cx="350" cy="207" r="1.5" fill="#b98be8"/>
<circle cx="403" cy="291" r="1.5" fill="#b98be8"/>
<circle cx="455" cy="337" r="1.5" fill="#b98be8"/>
<ellipse cx="250" cy="220" rx="12" ry="2.5" transform="rotate(-15 250 220)" fill="#dcd59a" opacity="0.7" filter="url(#blur2)"/>
<ellipse cx="225" cy="228" rx="8" ry="2" transform="rotate(-20 225 228)" fill="#dcd59a" opacity="0.7" filter="url(#blur2)"/>
<ellipse cx="285" cy="238" rx="10" ry="2" transform="rotate(-10 285 238)" fill="#dcd59a" opacity="0.7" filter="url(#blur2)"/>
<ellipse cx="330" cy="220" rx="6" ry="2" transform="rotate(0 330 220)" fill="#dcd59a" opacity="0.7" filter="url(#blur2)"/>
<ellipse cx="140" cy="185" rx="10" ry="3" transform="rotate(-20 140 185)" fill="#dcd59a" opacity="0.7" filter="url(#blur2)"/>
<ellipse cx="300" cy="158" rx="10" ry="2" transform="rotate(25 300 158)" fill="#dcd59a" opacity="0.7" filter="url(#blur2)"/>
<polygon points="352,258 365,262 378,280 385,296 383,304 373,290 360,272 350,262" fill="#a8cf7c" opacity="0.8" filter="url(#blur1)"/>
<polygon points="393,236 410,250 430,268 445,285 448,296 440,294 425,280 405,262 392,246" fill="#a8cf7c" opacity="0.85" filter="url(#blur1)"/>
<ellipse cx="395" cy="289" rx="3.5" ry="6" fill="#a8cf7c" opacity="0.8" filter="url(#blur1)"/>
<polygon points="350,232 362,236 366,246 358,250 350,244" fill="#a8cf7c" opacity="0.8" filter="url(#blur1)"/>
</g>
<polyline points="55.7,179.7 65.6,175.4 75.6,172.6 85.5,172.6 96.8,179.0 109.6,174.0 123.8,168.6 140.9,164.1 146.5,169.8 152.2,176.8 163.6,179.0 163.6,186.8 166.4,192.5 175.0,201.0 183.4,212.3 190.5,209.5 200.5,199.6 210.4,193.9 222.5,193.9 230.0,186.8 245.0,182.0 260.0,185.0 270.0,187.5 296.0,188.0 310.0,188.0 325.0,190.0 337.0,195.0" fill="none" stroke="#3399e0" stroke-width="1.1" stroke-linejoin="round"/>
<polyline points="337.0,195.0 343.0,200.0 347.0,207.0 349.0,213.0 355.0,222.0 363.0,229.0 373.0,233.0 380.0,230.0 380.0,246.4 391.6,257.8 399.2,271.7 396.7,280.6 404.3,289.3 403.0,295.6 411.8,312.0 410.6,322.0 415.6,327.2 425.7,331.0 437.0,331.0 442.0,334.8 454.7,334.8 464.8,331.0 471.1,320.8 482.5,318.3 495.0,320.8 504.0,320.8" fill="none" stroke="#2a86dc" stroke-width="1.7" stroke-linejoin="round"/>
<polyline points="313.0,114.6 314.0,122.0 335.0,138.0 337.0,158.0 337.0,172.0 343.0,186.0" fill="none" stroke="#3399e0" stroke-width="0.9" stroke-linejoin="round"/>
<polyline points="299.6,121.5 313.0,138.0 315.0,147.0 320.0,162.0 325.0,170.0 337.0,180.0 343.0,186.0" fill="none" stroke="#3399e0" stroke-width="0.9" stroke-linejoin="round"/>
<polyline points="270.0,128.0 278.0,142.0 296.0,144.0 311.0,160.0 322.0,172.0" fill="none" stroke="#3399e0" stroke-width="0.9" stroke-linejoin="round"/>
<polyline points="355.0,125.0 388.0,142.0 399.0,146.0 398.0,168.0 388.0,193.0 386.0,203.0 388.0,223.0 380.0,233.0" fill="none" stroke="#3399e0" stroke-width="0.9" stroke-linejoin="round"/>
<polyline points="351.0,172.0 355.0,186.0 380.0,199.0 386.0,203.0" fill="none" stroke="#3399e0" stroke-width="0.9" stroke-linejoin="round"/>
<polyline points="294.0,188.0 284.0,207.0 282.0,223.0 270.0,229.0 244.0,231.0 236.0,238.0 234.0,262.0 220.0,262.0" fill="none" stroke="#3399e0" stroke-width="0.9" stroke-linejoin="round"/>
<polyline points="78.4,138.5 70.0,150.0 64.2,158.4 65.6,175.4 64.2,186.8" fill="none" stroke="#3399e0" stroke-width="0.9" stroke-linejoin="round"/>
<polyline points="146.5,169.8 135.0,184.0" fill="none" stroke="#3399e0" stroke-width="0.9" stroke-linejoin="round"/>
<polyline points="182.0,171.2 177.8,184.0 183.4,191.0" fill="none" stroke="#3399e0" stroke-width="0.9" stroke-linejoin="round"/>
<polyline points="244.0,101.0 251.0,110.6 251.0,119.5 272.6,129.4 279.5,144.0 290.0,145.0" fill="none" stroke="#3399e0" stroke-width="0.9" stroke-linejoin="round"/>
<polyline points="415.6,289.3 420.7,313.3 423.0,317.0 435.8,320.2 443.4,320.8 463.6,318.3 476.2,317.0 480.0,318.0" fill="none" stroke="#3399e0" stroke-width="0.9" stroke-linejoin="round"/>
<polyline points="338.0,256.0 350.0,252.7 363.9,254.0 374.7,256.9 386.6,262.2 396.7,266.6" fill="none" stroke="#3399e0" stroke-width="0.9" stroke-linejoin="round"/>
<path d="M326,170 L334,175 L341,182" stroke="#1f6fd0" stroke-width="2.6" fill="none"/>
<path d="M338,180 L348,181 L353,192 L349,196 L340,197 L336,190 Z" fill="#1f6fd0"/>
<path d="M341,186 L335,187 L328,185 L320,186 L312,185 L304,187 M318,186 L316,190 L320,194 L318,199 M330,187 L328,192 L333,196 L329,201 M340,190 L336,194 L338,198 M312,185 L309,190 M324,193 L330,193" stroke="#1f6fd0" stroke-width="1.8" fill="none"/>
<path d="M389,138 L396,143 L400,146 L399,149 L395,148 M393,142 L394,137" stroke="#1f6fd0" stroke-width="1.8" fill="none"/>
<circle cx="65.6" cy="175.7" r="3.2" fill="#e83a2e" stroke="#8a1a14" stroke-width="0.6"/>
<circle cx="99.1" cy="179.6" r="3.2" fill="#e83a2e" stroke="#8a1a14" stroke-width="0.6"/>
<circle cx="123.8" cy="168.8" r="3.2" fill="#e83a2e" stroke="#8a1a14" stroke-width="0.6"/>
<circle cx="146.1" cy="169.4" r="3.2" fill="#e83a2e" stroke="#8a1a14" stroke-width="0.6"/>
<circle cx="161.8" cy="187.1" r="3.2" fill="#e83a2e" stroke="#8a1a14" stroke-width="0.6"/>
<circle cx="163.2" cy="190.5" r="3.2" fill="#e83a2e" stroke="#8a1a14" stroke-width="0.6"/>
<circle cx="183.9" cy="192.1" r="3.2" fill="#e83a2e" stroke="#8a1a14" stroke-width="0.6"/>
<circle cx="189.3" cy="196.4" r="3.2" fill="#e83a2e" stroke="#8a1a14" stroke-width="0.6"/>
<circle cx="200.7" cy="199.4" r="3.2" fill="#e83a2e" stroke="#8a1a14" stroke-width="0.6"/>
<circle cx="190.2" cy="206.3" r="3.2" fill="#e83a2e" stroke="#8a1a14" stroke-width="0.6"/>
<circle cx="196.2" cy="205.9" r="3.2" fill="#e83a2e" stroke="#8a1a14" stroke-width="0.6"/>
<circle cx="222.4" cy="194" r="3.2" fill="#e83a2e" stroke="#8a1a14" stroke-width="0.6"/>
<circle cx="315" cy="146.7" r="3.2" fill="#e83a2e" stroke="#8a1a14" stroke-width="0.6"/>
<circle cx="315.9" cy="152" r="3.2" fill="#e83a2e" stroke="#8a1a14" stroke-width="0.6"/>
<circle cx="319.9" cy="162.5" r="3.2" fill="#e83a2e" stroke="#8a1a14" stroke-width="0.6"/>
<circle cx="325.2" cy="169.8" r="3.2" fill="#e83a2e" stroke="#8a1a14" stroke-width="0.6"/>
<circle cx="336.6" cy="143.8" r="3.2" fill="#e83a2e" stroke="#8a1a14" stroke-width="0.6"/>
<circle cx="337.6" cy="158" r="3.2" fill="#e83a2e" stroke="#8a1a14" stroke-width="0.6"/>
<circle cx="336.4" cy="167.8" r="3.2" fill="#e83a2e" stroke="#8a1a14" stroke-width="0.6"/>
<circle cx="347.3" cy="186.9" r="3.2" fill="#e83a2e" stroke="#8a1a14" stroke-width="0.6"/>
<circle cx="296.2" cy="188.3" r="3.2" fill="#e83a2e" stroke="#8a1a14" stroke-width="0.6"/>
<circle cx="346.9" cy="207.2" r="3.2" fill="#e83a2e" stroke="#8a1a14" stroke-width="0.6"/>
<circle cx="353.4" cy="220.4" r="3.2" fill="#e83a2e" stroke="#8a1a14" stroke-width="0.6"/>
<circle cx="373.5" cy="233.3" r="3.2" fill="#e83a2e" stroke="#8a1a14" stroke-width="0.6"/>
<circle cx="386.3" cy="203.3" r="3.2" fill="#e83a2e" stroke="#8a1a14" stroke-width="0.6"/>
<circle cx="388.3" cy="210.6" r="3.2" fill="#e83a2e" stroke="#8a1a14" stroke-width="0.6"/>
<circle cx="386.7" cy="216.5" r="3.2" fill="#e83a2e" stroke="#8a1a14" stroke-width="0.6"/>
<circle cx="364.5" cy="255.5" r="3.2" fill="#e83a2e" stroke="#8a1a14" stroke-width="0.6"/>
<circle cx="374.7" cy="256.9" r="3.2" fill="#e83a2e" stroke="#8a1a14" stroke-width="0.6"/>
<circle cx="386.8" cy="262.5" r="3.2" fill="#e83a2e" stroke="#8a1a14" stroke-width="0.6"/>
<circle cx="405.3" cy="290.4" r="3.2" fill="#e83a2e" stroke="#8a1a14" stroke-width="0.6"/>
<circle cx="410.1" cy="323.1" r="3.2" fill="#e83a2e" stroke="#8a1a14" stroke-width="0.6"/>
<circle cx="423.2" cy="317.2" r="3.2" fill="#e83a2e" stroke="#8a1a14" stroke-width="0.6"/>
<circle cx="429.4" cy="320.7" r="3.2" fill="#e83a2e" stroke="#8a1a14" stroke-width="0.6"/>
<circle cx="435.6" cy="320.7" r="3.2" fill="#e83a2e" stroke="#8a1a14" stroke-width="0.6"/>
<circle cx="437.4" cy="333" r="3.2" fill="#e83a2e" stroke="#8a1a14" stroke-width="0.6"/>
<circle cx="455.4" cy="336" r="3.2" fill="#e83a2e" stroke="#8a1a14" stroke-width="0.6"/>
<circle cx="463.5" cy="334.1" r="3.2" fill="#e83a2e" stroke="#8a1a14" stroke-width="0.6"/>
<circle cx="479.8" cy="318" r="3.2" fill="#e83a2e" stroke="#8a1a14" stroke-width="0.6"/>
<circle cx="484.4" cy="319.1" r="3.2" fill="#e83a2e" stroke="#8a1a14" stroke-width="0.6"/>
<circle cx="494.6" cy="320.1" r="3.2" fill="#e83a2e" stroke="#8a1a14" stroke-width="0.6"/>
<text x="481.5" y="99.9" font-size="10.5" text-anchor="middle">N</text>
<path d="M481.5,102.6 L473.6,128.9 L481.5,120 Z" fill="#000"/>
<path d="M481.5,102.6 L489,128.9 L481.5,120 Z" fill="#fff" stroke="#000" stroke-width="0.9"/>
<circle cx="73.4" cy="254.1" r="3.1" fill="#e83a2e"/>
<text x="89.5" y="258.5" font-size="10.3" fill="#222">Sites</text>
<line x1="63.4" y1="267.3" x2="83.3" y2="267.3" stroke="#58b4f0" stroke-width="1"/>
<text x="89.5" y="271" font-size="10.3" fill="#222">Rivers</text>
<rect x="63.4" y="275.8" width="20" height="9.8" fill="#fbe2a0" stroke="#999" stroke-width="0.5"/>
<text x="89.5" y="284.8" font-size="10.3" fill="#222">Cropland</text>
<rect x="63.4" y="289.5" width="20" height="9.8" fill="#a8d17f" stroke="#999" stroke-width="0.5"/>
<text x="89.5" y="298.5" font-size="10.3" fill="#222">Forest</text>
<rect x="63.4" y="302.6" width="20" height="9.8" fill="#6e6a5e" stroke="#999" stroke-width="0.5"/>
<text x="89.5" y="311.6" font-size="10.3" fill="#222">Shrub</text>
<rect x="63.4" y="315.7" width="20" height="9.8" fill="#356f34" stroke="#999" stroke-width="0.5"/>
<text x="89.5" y="324.7" font-size="10.3" fill="#222">Grassland</text>
<rect x="63.4" y="329" width="20" height="9.8" fill="#1e68c0" stroke="#999" stroke-width="0.5"/>
<text x="89.5" y="338" font-size="10.3" fill="#222">Water</text>
<rect x="63.4" y="342" width="20" height="9.8" fill="#d2bca0" stroke="#999" stroke-width="0.5"/>
<text x="89.5" y="351" font-size="10.3" fill="#222">Barren</text>
<rect x="63.4" y="355.3" width="20" height="9.8" fill="#b27cf2" stroke="#999" stroke-width="0.5"/>
<text x="89.5" y="364.3" font-size="10.3" fill="#222">Impervious</text>
<text x="64.5" y="380.5" font-size="10" text-anchor="middle" fill="#222">0</text>
<text x="122.5" y="380.5" font-size="10" text-anchor="middle" fill="#222">100</text>
<text x="173.6" y="380.5" font-size="10" fill="#222">200 Km</text>
<path d="M63.4,383 V389 M63.4,386 H182.2 M122.5,383 V389 M182.2,383 V389" stroke="#777" stroke-width="0.9" fill="none"/>
</g>
<g id="buffer">
<defs>
<linearGradient id="soilg" x1="0" y1="0" x2="0" y2="1">
 <stop offset="0" stop-color="#e3cbb1"/><stop offset="0.2" stop-color="#dbc0a4"/><stop offset="0.55" stop-color="#b99c7e"/><stop offset="0.8" stop-color="#a88b6d"/><stop offset="1" stop-color="#a5896b"/>
</linearGradient>
<linearGradient id="cloudg" x1="0" y1="0" x2="0" y2="1">
 <stop offset="0" stop-color="#eef6fb"/><stop offset="1" stop-color="#d5e4ee"/>
</linearGradient>
<radialGradient id="sung"><stop offset="0" stop-color="#f2a81c"/><stop offset="1" stop-color="#f9c21a"/></radialGradient>
<linearGradient id="stalkg" x1="0" y1="0" x2="0" y2="1"><stop offset="0" stop-color="#7e9c8c"/><stop offset="1" stop-color="#c9b49a"/></linearGradient>
</defs>
<g transform="translate(49,440.1)">
<path d="M0,-7 Q2.5,-9.5 1.5,-11.5" transform="rotate(0)" stroke="#f6b21e" stroke-width="1.3" fill="none" stroke-linecap="round"/>
<path d="M0,-7 Q2.5,-9.5 1.5,-11.5" transform="rotate(30)" stroke="#f6b21e" stroke-width="1.3" fill="none" stroke-linecap="round"/>
<path d="M0,-7 Q2.5,-9.5 1.5,-11.5" transform="rotate(60)" stroke="#f6b21e" stroke-width="1.3" fill="none" stroke-linecap="round"/>
<path d="M0,-7 Q2.5,-9.5 1.5,-11.5" transform="rotate(90)" stroke="#f6b21e" stroke-width="1.3" fill="none" stroke-linecap="round"/>
<path d="M0,-7 Q2.5,-9.5 1.5,-11.5" transform="rotate(120)" stroke="#f6b21e" stroke-width="1.3" fill="none" stroke-linecap="round"/>
<path d="M0,-7 Q2.5,-9.5 1.5,-11.5" transform="rotate(150)" stroke="#f6b21e" stroke-width="1.3" fill="none" stroke-linecap="round"/>
<path d="M0,-7 Q2.5,-9.5 1.5,-11.5" transform="rotate(180)" stroke="#f6b21e" stroke-width="1.3" fill="none" stroke-linecap="round"/>
<path d="M0,-7 Q2.5,-9.5 1.5,-11.5" transform="rotate(210)" stroke="#f6b21e" stroke-width="1.3" fill="none" stroke-linecap="round"/>
<path d="M0,-7 Q2.5,-9.5 1.5,-11.5" transform="rotate(240)" stroke="#f6b21e" stroke-width="1.3" fill="none" stroke-linecap="round"/>
<path d="M0,-7 Q2.5,-9.5 1.5,-11.5" transform="rotate(270)" stroke="#f6b21e" stroke-width="1.3" fill="none" stroke-linecap="round"/>
<path d="M0,-7 Q2.5,-9.5 1.5,-11.5" transform="rotate(300)" stroke="#f6b21e" stroke-width="1.3" fill="none" stroke-linecap="round"/>
<path d="M0,-7 Q2.5,-9.5 1.5,-11.5" transform="rotate(330)" stroke="#f6b21e" stroke-width="1.3" fill="none" stroke-linecap="round"/>
<circle r="5.2" fill="url(#sung)"/></g>
<path d="M29,455.5 C40,450 60,451 75,448.5 C88,445.5 100,444.5 112,446.5 C124,449 130,452 138,452.5 C146,452.8 149,455 146,457 C135,458.5 120,458 105,459.5 C90,460.5 75,459 60,459 C45,459 33,458.5 29,455.5 Z" fill="url(#cloudg)" stroke="#cddde8" stroke-width="0.6"/>
<rect x="360" y="609.7" width="167" height="90.3" fill="#7bbfe0"/>
<path d="M32,590.4 L150,590.6 C230,590 300,590 335,596 C355,599 372,604 385,613 C400,625 412,642 422,660 C430,674 437,684 446,689 C456,693 470,697 485,698 C500,699.5 515,700 527,700 L527,712.8 L32,712.8 Z" fill="url(#soilg)"/>
<path transform="translate(499.5,633.5) scale(1.0) rotate(22)" d="M-12,0 C-10,-3.5 -2,-4 4,-2.5 L6,-5.5 L7,-2 L10,-1 L14,-4 L12,0.5 L14,4 L9.5,1.5 C6,3 3,3.5 1,3 L-1,5 L-2,3 C-7,3 -11,2 -12,0 Z" fill="#5cb2dc"/>
<path transform="translate(467,650) scale(1.0) rotate(22)" d="M-12,0 C-10,-3.5 -2,-4 4,-2.5 L6,-5.5 L7,-2 L10,-1 L14,-4 L12,0.5 L14,4 L9.5,1.5 C6,3 3,3.5 1,3 L-1,5 L-2,3 C-7,3 -11,2 -12,0 Z" fill="#5cb2dc"/>
<path transform="translate(487,650) scale(0.85) rotate(22)" d="M-12,0 C-10,-3.5 -2,-4 4,-2.5 L6,-5.5 L7,-2 L10,-1 L14,-4 L12,0.5 L14,4 L9.5,1.5 C6,3 3,3.5 1,3 L-1,5 L-2,3 C-7,3 -11,2 -12,0 Z" fill="#5cb2dc"/>
<path transform="translate(486.5,662) scale(1.0) rotate(22)" d="M-12,0 C-10,-3.5 -2,-4 4,-2.5 L6,-5.5 L7,-2 L10,-1 L14,-4 L12,0.5 L14,4 L9.5,1.5 C6,3 3,3.5 1,3 L-1,5 L-2,3 C-7,3 -11,2 -12,0 Z" fill="#5cb2dc"/>
<path d="M37.1,482.4 L54.6,486.5 C53.5,494 49,505 39.9,518.3 L21.4,513.2 C23,505 29,490 37.1,482.4 Z" fill="#c9a06e" stroke="#3f2a1a" stroke-width="1.1" stroke-linejoin="round"/>
<path d="M37.5,486 L50.5,489.5 L47.5,494 M26.5,510 L39,513.5 L39.5,509.5" stroke="#5a3d24" stroke-width="0.7" fill="none"/>
<path d="M40.6,490.2 L43.8,501.2 L31.1,509.1 L30.2,497.6 Z" fill="#4cb050" stroke="#1f8a35" stroke-width="0.8"/>
<path d="M32.5,498.5 L40,502" stroke="#111" stroke-width="1.6"/>
<path d="M37.5,493 l1.5,1.5 l-2,0.5 Z M33,503 l1.5,2 l-2,0.5 Z" fill="#e8f0e0"/>
<path d="M27.2,519 C24,545 28,568 39,584" stroke="#2a1a16" stroke-width="1.3" fill="none"/>
<path d="M42,587 L33.5,581.5 L40.5,578 Z" fill="#2a1a16"/>
<rect x="63.1" y="516" width="2.2" height="75.29999999999995" fill="url(#stalkg)"/>
<path d="M64.2,518 L64.2,504 Q63.7,500 61.2,499 M64.2,510 Q59.2,504 56.2,511 M64.2,510 Q69.2,504 72.2,511 M64.2,514 Q60.2,510 58.2,516 M64.2,514 Q68.2,510 70.2,516 M64.2,506 Q67.2,502 69.2,505" stroke="#dfb22a" stroke-width="1.5" fill="none" stroke-linecap="round"/>
<path d="M64.2,532 C65.8,525.6 68.9,523.0 70.4,524.0 C73.0,526.0 74.1,535.6 74.6,541.6 C72.5,535.6 70.4,528.4 68.4,527.4 C66.8,528.4 65.2,528.8 64.2,535.4 Z" fill="#2e7f6e"/>
<path d="M64.2,543 C62.4,535.6 58.8,532.8 57.0,533.8 C54.0,535.8 52.8,548.1 52.2,554.1 C54.6,548.1 57.0,538.1 59.4,537.1 C61.2,538.1 63.0,539.3 64.2,546.4 Z" fill="#2e7f6e"/>
<path d="M64.2,554 C66.2,545.6 70.3,542.5 72.4,543.5 C75.8,545.5 77.2,560.6 77.9,566.6 C75.1,560.6 72.4,547.9 69.7,546.9 C67.6,547.9 65.6,549.8 64.2,557.4 Z" fill="#2e7f6e"/>
<path d="M64.2,565 C61.9,555.6 57.3,552.2 55.0,553.2 C51.2,555.2 49.7,573.1 48.9,579.1 C52.0,573.1 55.0,557.6 58.1,556.6 C60.4,557.6 62.7,560.3 64.2,568.4 Z" fill="#2e7f6e"/>
<path d="M63.2,546 q-5,-9 -2,-19 q5,7 2,19 Z" fill="#a9c47c" stroke="#dcc24a" stroke-width="0.8"/>
<path d="M65.2,566 q5,-9 2,-17 q-5,7 -2,17 Z" fill="#a9c47c" stroke="#dcc24a" stroke-width="0.8"/>
<rect x="83.10000000000001" y="507" width="2.2" height="83" fill="url(#stalkg)"/>
<path d="M84.2,509 L84.2,495 Q83.7,491 81.2,490 M84.2,501 Q79.2,495 76.2,502 M84.2,501 Q89.2,495 92.2,502 M84.2,505 Q80.2,501 78.2,507 M84.2,505 Q88.2,501 90.2,507 M84.2,497 Q87.2,493 89.2,496" stroke="#dfb22a" stroke-width="1.5" fill="none" stroke-linecap="round"/>
<path d="M84.2,523 C82.6,516.6 79.5,514.0 78.0,515.0 C75.4,517.0 74.3,526.6 73.8,532.6 C75.9,526.6 78.0,519.4 80.0,518.4 C81.6,519.4 83.2,519.8 84.2,526.4 Z" fill="#2e7f6e"/>
<path d="M84.2,534 C86.0,526.6 89.6,523.8 91.4,524.8 C94.4,526.8 95.6,539.1 96.2,545.1 C93.8,539.1 91.4,529.1 89.0,528.1 C87.2,529.1 85.4,530.3 84.2,537.4 Z" fill="#2e7f6e"/>
<path d="M84.2,545 C82.2,536.6 78.1,533.5 76.0,534.5 C72.6,536.5 71.2,551.6 70.5,557.6 C73.3,551.6 76.0,538.9 78.7,537.9 C80.8,538.9 82.8,540.8 84.2,548.4 Z" fill="#2e7f6e"/>
<path d="M84.2,556 C86.5,546.6 91.1,543.2 93.4,544.2 C97.2,546.2 98.7,564.1 99.5,570.1 C96.4,564.1 93.4,548.6 90.3,547.6 C88.0,548.6 85.7,551.3 84.2,559.4 Z" fill="#2e7f6e"/>
<path d="M84.2,567 C81.7,556.6 76.6,553.0 74.1,554.0 C69.8,556.0 68.1,576.6 67.3,582.6 C70.7,576.6 74.1,558.4 77.4,557.4 C80.0,558.4 82.5,561.8 84.2,570.4 Z" fill="#2e7f6e"/>
<path d="M83.2,537 q-5,-9 -2,-19 q5,7 2,19 Z" fill="#a9c47c" stroke="#dcc24a" stroke-width="0.8"/>
<path d="M85.2,557 q5,-9 2,-17 q-5,7 -2,17 Z" fill="#a9c47c" stroke="#dcc24a" stroke-width="0.8"/>
<rect x="109.4" y="489.5" width="2.2" height="107.5" fill="url(#stalkg)"/>
<path d="M110.5,491.5 L110.5,477.5 Q110.0,473.5 107.5,472.5 M110.5,483.5 Q105.5,477.5 102.5,484.5 M110.5,483.5 Q115.5,477.5 118.5,484.5 M110.5,487.5 Q106.5,483.5 104.5,489.5 M110.5,487.5 Q114.5,483.5 116.5,489.5 M110.5,479.5 Q113.5,475.5 115.5,478.5" stroke="#dfb22a" stroke-width="1.5" fill="none" stroke-linecap="round"/>
<path d="M110.5,505.5 C112.1,499.1 115.2,496.5 116.7,497.5 C119.3,499.5 120.4,509.1 120.9,515.1 C118.8,509.1 116.7,501.9 114.7,500.9 C113.1,501.9 111.5,502.3 110.5,508.9 Z" fill="#2e7f6e"/>
<path d="M110.5,516.5 C108.7,509.1 105.1,506.2 103.3,507.2 C100.3,509.2 99.1,521.6 98.5,527.6 C100.9,521.6 103.3,511.6 105.7,510.6 C107.5,511.6 109.3,512.8 110.5,519.9 Z" fill="#2e7f6e"/>
<path d="M110.5,527.5 C112.5,519.1 116.6,516.0 118.7,517.0 C122.1,519.0 123.5,534.1 124.2,540.1 C121.4,534.1 118.7,521.4 116.0,520.4 C113.9,521.4 111.9,523.3 110.5,530.9 Z" fill="#2e7f6e"/>
<path d="M110.5,538.5 C108.2,529.1 103.6,525.8 101.3,526.8 C97.5,528.8 96.0,546.6 95.2,552.6 C98.3,546.6 101.3,531.1 104.4,530.1 C106.7,531.1 109.0,533.8 110.5,541.9 Z" fill="#2e7f6e"/>
<path d="M110.5,549.5 C113.0,539.1 118.1,535.5 120.6,536.5 C124.9,538.5 126.6,559.1 127.4,565.1 C124.0,559.1 120.6,540.9 117.3,539.9 C114.7,540.9 112.2,544.3 110.5,552.9 Z" fill="#2e7f6e"/>
<path d="M110.5,560.5 C108.0,550.1 102.9,546.5 100.4,547.5 C96.1,549.5 94.4,570.1 93.6,576.1 C97.0,570.1 100.4,551.9 103.7,550.9 C106.3,551.9 108.8,555.3 110.5,563.9 Z" fill="#2e7f6e"/>
<path d="M110.5,571.5 C113.0,561.1 118.1,557.5 120.6,558.5 C124.9,560.5 126.6,581.1 127.4,587.1 C124.0,581.1 120.6,562.9 117.3,561.9 C114.7,562.9 112.2,566.3 110.5,574.9 Z" fill="#2e7f6e"/>
<path d="M109.5,519.5 q-5,-9 -2,-19 q5,7 2,19 Z" fill="#a9c47c" stroke="#dcc24a" stroke-width="0.8"/>
<path d="M111.5,539.5 q5,-9 2,-17 q-5,7 -2,17 Z" fill="#a9c47c" stroke="#dcc24a" stroke-width="0.8"/>
<rect x="91.4" y="532" width="2.2" height="65" fill="url(#stalkg)"/>
<path d="M92.5,534 L92.5,520 Q92.0,516 89.5,515 M92.5,526 Q87.5,520 84.5,527 M92.5,526 Q97.5,520 100.5,527 M92.5,530 Q88.5,526 86.5,532 M92.5,530 Q96.5,526 98.5,532 M92.5,522 Q95.5,518 97.5,521" stroke="#dfb22a" stroke-width="1.5" fill="none" stroke-linecap="round"/>
<path d="M92.5,548 C90.9,541.6 87.8,539.0 86.3,540.0 C83.7,542.0 82.6,551.6 82.1,557.6 C84.2,551.6 86.3,544.4 88.3,543.4 C89.9,544.4 91.5,544.8 92.5,551.4 Z" fill="#2e7f6e"/>
<path d="M92.5,559 C94.3,551.6 97.9,548.8 99.7,549.8 C102.7,551.8 103.9,564.1 104.5,570.1 C102.1,564.1 99.7,554.1 97.3,553.1 C95.5,554.1 93.7,555.3 92.5,562.4 Z" fill="#2e7f6e"/>
<path d="M92.5,570 C90.5,561.6 86.4,558.5 84.3,559.5 C80.9,561.5 79.5,576.6 78.8,582.6 C81.6,576.6 84.3,563.9 87.0,562.9 C89.1,563.9 91.1,565.8 92.5,573.4 Z" fill="#2e7f6e"/>
<path d="M91.5,562 q-5,-9 -2,-19 q5,7 2,19 Z" fill="#a9c47c" stroke="#dcc24a" stroke-width="0.8"/>
<path d="M93.5,582 q5,-9 2,-17 q-5,7 -2,17 Z" fill="#a9c47c" stroke="#dcc24a" stroke-width="0.8"/>
<rect x="116.9" y="520" width="2.2" height="75.39999999999998" fill="url(#stalkg)"/>
<path d="M118,522 L118,508 Q117.5,504 115,503 M118,514 Q113,508 110,515 M118,514 Q123,508 126,515 M118,518 Q114,514 112,520 M118,518 Q122,514 124,520 M118,510 Q121,506 123,509" stroke="#dfb22a" stroke-width="1.5" fill="none" stroke-linecap="round"/>
<path d="M118,536 C119.6,529.6 122.7,527.0 124.2,528.0 C126.8,530.0 127.9,539.6 128.4,545.6 C126.3,539.6 124.2,532.4 122.2,531.4 C120.6,532.4 119.0,532.8 118,539.4 Z" fill="#2e7f6e"/>
<path d="M118,547 C116.2,539.6 112.6,536.8 110.8,537.8 C107.8,539.8 106.6,552.1 106.0,558.1 C108.4,552.1 110.8,542.1 113.2,541.1 C115.0,542.1 116.8,543.3 118,550.4 Z" fill="#2e7f6e"/>
<path d="M118,558 C120.0,549.6 124.1,546.5 126.2,547.5 C129.6,549.5 131.0,564.6 131.7,570.6 C128.9,564.6 126.2,551.9 123.5,550.9 C121.4,551.9 119.4,553.8 118,561.4 Z" fill="#2e7f6e"/>
<path d="M118,569 C115.7,559.6 111.1,556.2 108.8,557.2 C105.0,559.2 103.5,577.1 102.7,583.1 C105.8,577.1 108.8,561.6 111.9,560.6 C114.2,561.6 116.5,564.3 118,572.4 Z" fill="#2e7f6e"/>
<path d="M117,550 q-5,-9 -2,-19 q5,7 2,19 Z" fill="#a9c47c" stroke="#dcc24a" stroke-width="0.8"/>
<path d="M119,570 q5,-9 2,-17 q-5,7 -2,17 Z" fill="#a9c47c" stroke="#dcc24a" stroke-width="0.8"/>
<rect x="112.9" y="540" width="2.2" height="57" fill="url(#stalkg)"/>
<path d="M114,542 L114,528 Q113.5,524 111,523 M114,534 Q109,528 106,535 M114,534 Q119,528 122,535 M114,538 Q110,534 108,540 M114,538 Q118,534 120,540 M114,530 Q117,526 119,529" stroke="#dfb22a" stroke-width="1.5" fill="none" stroke-linecap="round"/>
<path d="M114,556 C112.4,549.6 109.3,547.0 107.8,548.0 C105.2,550.0 104.1,559.6 103.6,565.6 C105.7,559.6 107.8,552.4 109.8,551.4 C111.4,552.4 113.0,552.8 114,559.4 Z" fill="#2e7f6e"/>
<path d="M114,567 C115.8,559.6 119.4,556.8 121.2,557.8 C124.2,559.8 125.4,572.1 126.0,578.1 C123.6,572.1 121.2,562.1 118.8,561.1 C117.0,562.1 115.2,563.3 114,570.4 Z" fill="#2e7f6e"/>
<path d="M114,578 C112.0,569.6 107.9,566.5 105.8,567.5 C102.4,569.5 101.0,584.6 100.3,590.6 C103.1,584.6 105.8,571.9 108.5,570.9 C110.6,571.9 112.6,573.8 114,581.4 Z" fill="#2e7f6e"/>
<path d="M114,589 C116.3,579.6 120.9,576.2 123.2,577.2 C127.0,579.2 128.5,597.1 129.3,603.1 C126.2,597.1 123.2,581.6 120.1,580.6 C117.8,581.6 115.5,584.3 114,592.4 Z" fill="#2e7f6e"/>
<path d="M113,570 q-5,-9 -2,-19 q5,7 2,19 Z" fill="#a9c47c" stroke="#dcc24a" stroke-width="0.8"/>
<path d="M115,590 q5,-9 2,-17 q-5,7 -2,17 Z" fill="#a9c47c" stroke="#dcc24a" stroke-width="0.8"/>
<path d="M100,560 C97.8,550.4 93.2,547.0 91.0,548.0 C87.2,550.0 85.8,572.0 85.0,578.0 C88.0,572.0 91.0,552.4 94.0,551.4 C96.2,552.4 98.5,555.2 100,563.4 Z" fill="#2e7f6e"/>
<path d="M104,575 C106.1,567.0 110.3,564.0 112.4,565.0 C115.9,567.0 117.3,587.0 118.0,593.0 C115.2,587.0 112.4,569.4 109.6,568.4 C107.5,569.4 105.4,571.0 104,578.4 Z" fill="#2e7f6e"/>
<path d="M72,565 C69.9,557.0 65.7,554.0 63.6,555.0 C60.1,557.0 58.7,575.0 58.0,581.0 C60.8,575.0 63.6,559.4 66.4,558.4 C68.5,559.4 70.6,561.0 72,568.4 Z" fill="#2e7f6e"/>
<path d="M125,566 C126.8,558.0 130.4,555.0 132.2,556.0 C135.2,558.0 136.4,580.0 137.0,586.0 C134.6,580.0 132.2,560.4 129.8,559.4 C128.0,560.4 126.2,562.0 125,569.4 Z" fill="#2e7f6e"/>
<path d="M64.2,575 C62.1,567.0 57.9,564.0 55.8,565.0 C52.3,567.0 50.9,585.0 50.2,591.0 C53.0,585.0 55.8,569.4 58.6,568.4 C60.7,569.4 62.8,571.0 64.2,578.4 Z" fill="#2e7f6e"/>
<path d="M84.2,578 C86.2,570.0 90.0,567.0 92.0,568.0 C95.2,570.0 96.5,586.0 97.2,592.0 C94.6,586.0 92.0,572.4 89.4,571.4 C87.5,572.4 85.5,574.0 84.2,581.4 Z" fill="#2e7f6e"/>
<path d="M92.5,585 C90.5,577.8 86.7,575.0 84.7,576.0 C81.5,578.0 80.2,591.0 79.5,597.0 C82.1,591.0 84.7,580.4 87.3,579.4 C89.2,580.4 91.2,581.4 92.5,588.4 Z" fill="#2e7f6e"/>
<path d="M110.5,582 C108.7,574.8 105.1,572.0 103.3,573.0 C100.3,575.0 99.1,590.0 98.5,596.0 C100.9,590.0 103.3,577.4 105.7,576.4 C107.5,577.4 109.3,578.4 110.5,585.4 Z" fill="#2e7f6e"/>
<path d="M118,580 C120.0,572.8 123.8,570.0 125.8,571.0 C129.1,573.0 130.3,590.0 131.0,596.0 C128.4,590.0 125.8,575.4 123.2,574.4 C121.2,575.4 119.3,576.4 118,583.4 Z" fill="#2e7f6e"/>
<path d="M64.2,548 C66.2,540.0 70.0,537.0 72.0,538.0 C75.2,540.0 76.5,554.0 77.2,560.0 C74.6,554.0 72.0,542.4 69.4,541.4 C67.5,542.4 65.5,544.0 64.2,551.4 Z" fill="#2e7f6e"/>
<path d="M84.2,552 C82.2,544.0 78.4,541.0 76.4,542.0 C73.2,544.0 71.9,558.0 71.2,564.0 C73.8,558.0 76.4,546.4 79.0,545.4 C81.0,546.4 82.9,548.0 84.2,555.4 Z" fill="#2e7f6e"/>
<path d="M131,486 V522.5 M131,504.1 H193.6 M322,504.1 H394.4 M394.4,486.2 V522.5" stroke="#111" stroke-width="1.2" fill="none"/>
<text x="205" y="507.8" font-size="18.2">Buffer zones</text>
<path d="M134,585.1 L179.4,585.1 L179.4,582.4 L210.6,587.8 L200,589.6 L134,589.8 Z" fill="#bdbdc0"/>
<text x="119.5" y="575.5" font-size="16.2">Surface runoff</text>
<text x="16" y="614" font-size="14">Fertilization</text>
<text x="136" y="637" font-size="16" text-anchor="middle">No</text>
<text x="136" y="657" font-size="16" text-anchor="middle">plant</text>
<text x="222.8" y="637" font-size="16" text-anchor="middle">Single</text>
<text x="222.8" y="657" font-size="16" text-anchor="middle">species</text>
<text x="330.9" y="637" font-size="16" text-anchor="middle">Multiple</text>
<text x="330.9" y="657" font-size="16" text-anchor="middle">species</text>
<path d="M214,591 L257,591 L254,606 L246,612 L222,612 L212,604 Z" fill="#c3c3c6" opacity="0.55" filter="url(#blur1)"/>
<line x1="227.6" y1="591" x2="227.4" y2="606.7" stroke="#b4b4b8" stroke-width="0.8"/>
<line x1="239.3" y1="591" x2="240.6" y2="603.7" stroke="#b4b4b8" stroke-width="0.8"/>
<line x1="220.4" y1="591" x2="225.5" y2="605.6" stroke="#b4b4b8" stroke-width="0.8"/>
<line x1="227.5" y1="591" x2="235.4" y2="607.7" stroke="#b4b4b8" stroke-width="0.8"/>
<line x1="246.8" y1="591" x2="245.3" y2="609.4" stroke="#b4b4b8" stroke-width="0.8"/>
<line x1="224.8" y1="591" x2="226.2" y2="611.7" stroke="#b4b4b8" stroke-width="0.8"/>
<line x1="236.7" y1="591" x2="240.1" y2="609.7" stroke="#b4b4b8" stroke-width="0.8"/>
<line x1="222.0" y1="591" x2="225.7" y2="608.9" stroke="#b4b4b8" stroke-width="0.8"/>
<line x1="229.6" y1="591" x2="220.2" y2="611.7" stroke="#b4b4b8" stroke-width="0.8"/>
<line x1="235.1" y1="591" x2="238.1" y2="611.8" stroke="#b4b4b8" stroke-width="0.8"/>
<line x1="242.9" y1="591" x2="249.4" y2="606.9" stroke="#b4b4b8" stroke-width="0.8"/>
<line x1="245.6" y1="591" x2="243.6" y2="612.4" stroke="#b4b4b8" stroke-width="0.8"/>
<line x1="248.1" y1="591" x2="239.9" y2="604.4" stroke="#b4b4b8" stroke-width="0.8"/>
<line x1="226.9" y1="591" x2="234.3" y2="607.4" stroke="#b4b4b8" stroke-width="0.8"/>
<line x1="240.1" y1="591" x2="235.5" y2="608.1" stroke="#b4b4b8" stroke-width="0.8"/>
<line x1="232.3" y1="591" x2="228.7" y2="608.9" stroke="#b4b4b8" stroke-width="0.8"/>
<line x1="238.7" y1="591" x2="245.0" y2="609.8" stroke="#b4b4b8" stroke-width="0.8"/>
<line x1="249.7" y1="591" x2="255.1" y2="612.9" stroke="#b4b4b8" stroke-width="0.8"/>
<line x1="241.5" y1="591" x2="234.4" y2="611.6" stroke="#b4b4b8" stroke-width="0.8"/>
<line x1="250.9" y1="591" x2="257.2" y2="608.7" stroke="#b4b4b8" stroke-width="0.8"/>
<line x1="242.8" y1="591" x2="236.6" y2="611.3" stroke="#b4b4b8" stroke-width="0.8"/>
<line x1="238.4" y1="591" x2="233.5" y2="603.6" stroke="#b4b4b8" stroke-width="0.8"/>
<line x1="247.3" y1="591" x2="255.1" y2="603.9" stroke="#b4b4b8" stroke-width="0.8"/>
<line x1="245.6" y1="591" x2="243.0" y2="604.5" stroke="#b4b4b8" stroke-width="0.8"/>
<line x1="229.4" y1="591" x2="233.2" y2="611.7" stroke="#b4b4b8" stroke-width="0.8"/>
<line x1="221.4" y1="591" x2="222.5" y2="603.4" stroke="#b4b4b8" stroke-width="0.8"/>
<line x1="243.0" y1="591" x2="238.9" y2="611.8" stroke="#b4b4b8" stroke-width="0.8"/>
<line x1="251.4" y1="591" x2="250.5" y2="613.0" stroke="#b4b4b8" stroke-width="0.8"/>
<line x1="229.9" y1="591" x2="221.3" y2="609.0" stroke="#b4b4b8" stroke-width="0.8"/>
<line x1="221.0" y1="591" x2="214.6" y2="607.1" stroke="#b4b4b8" stroke-width="0.8"/>
<path d="M240.0,591 Q234.0,562.1 220.1,533.2" stroke="#a9cf5e" stroke-width="0.8" fill="none"/>
<path d="M234.6,591 Q241.2,583.9 256.5,576.7" stroke="#cfe29a" stroke-width="0.8" fill="none"/>
<path d="M235.8,591 Q241.0,570.8 253.0,550.7" stroke="#b5d66a" stroke-width="0.8" fill="none"/>
<path d="M240.2,591 Q246.4,573.9 261.1,556.9" stroke="#cfe29a" stroke-width="0.8" fill="none"/>
<path d="M240.4,591 Q243.2,584.9 249.6,578.8" stroke="#cfe29a" stroke-width="0.8" fill="none"/>
<path d="M246.6,591 Q246.3,575.0 245.7,559.0" stroke="#b5d66a" stroke-width="0.8" fill="none"/>
<path d="M243.2,591 Q250.2,569.0 266.5,547.1" stroke="#cfe29a" stroke-width="0.8" fill="none"/>
<path d="M240.1,591 Q241.5,562.5 245.0,534.1" stroke="#a9cf5e" stroke-width="0.8" fill="none"/>
<path d="M237.4,591 Q239.6,570.0 244.7,549.0" stroke="#a9cf5e" stroke-width="0.8" fill="none"/>
<path d="M242.3,591 Q234.2,562.5 215.4,534.1" stroke="#b5d66a" stroke-width="0.8" fill="none"/>
<path d="M246.3,591 Q241.9,572.6 231.4,554.3" stroke="#a9cf5e" stroke-width="0.8" fill="none"/>
<path d="M232.2,591 Q226.7,580.3 213.8,569.7" stroke="#a9cf5e" stroke-width="0.8" fill="none"/>
<path d="M234.4,591 Q231.9,580.7 226.0,570.4" stroke="#b5d66a" stroke-width="0.8" fill="none"/>
<path d="M246.5,591 Q248.8,564.4 254.0,537.7" stroke="#c2dd7c" stroke-width="0.8" fill="none"/>
<path d="M240.8,591 Q236.6,569.4 226.8,547.7" stroke="#cfe29a" stroke-width="0.8" fill="none"/>
<path d="M240.7,591 Q233.8,576.3 217.7,561.6" stroke="#a9cf5e" stroke-width="0.8" fill="none"/>
<path d="M241.1,591 Q236.3,581.6 224.8,572.3" stroke="#c2dd7c" stroke-width="0.8" fill="none"/>
<path d="M230.4,591 Q233.6,566.6 241.0,542.1" stroke="#cfe29a" stroke-width="0.8" fill="none"/>
<path d="M233.9,591 Q237.7,561.9 246.8,532.7" stroke="#c2dd7c" stroke-width="0.8" fill="none"/>
<path d="M234.7,591 Q239.3,575.7 250.2,560.3" stroke="#a9cf5e" stroke-width="0.8" fill="none"/>
<path d="M235.1,591 Q239.6,563.2 250.2,535.4" stroke="#a9cf5e" stroke-width="0.8" fill="none"/>
<path d="M239.6,591 Q237.8,574.2 233.5,557.4" stroke="#a9cf5e" stroke-width="0.8" fill="none"/>
<path d="M237.4,591 Q238.9,568.4 242.3,545.8" stroke="#cfe29a" stroke-width="0.8" fill="none"/>
<path d="M229.6,591 Q227.7,566.1 223.1,541.2" stroke="#cfe29a" stroke-width="0.8" fill="none"/>
<path d="M246.0,591 Q251.3,586.2 263.7,581.3" stroke="#cfe29a" stroke-width="0.8" fill="none"/>
<path d="M239.1,591 Q246.0,579.3 262.3,567.6" stroke="#b5d66a" stroke-width="0.8" fill="none"/>
<path d="M242.4,591 Q247.1,577.9 257.9,564.8" stroke="#a9cf5e" stroke-width="0.8" fill="none"/>
<path d="M238.8,591 Q244.3,583.0 257.1,574.9" stroke="#a9cf5e" stroke-width="0.8" fill="none"/>
<path d="M231.2,591 Q226.6,561.9 215.9,532.8" stroke="#c2dd7c" stroke-width="0.8" fill="none"/>
<path d="M245.1,591 Q250.8,575.7 263.9,560.4" stroke="#b5d66a" stroke-width="0.8" fill="none"/>
<path d="M237.7,591 Q231.1,573.8 215.9,556.7" stroke="#c2dd7c" stroke-width="0.8" fill="none"/>
<path d="M240.9,591 Q240.7,571.6 240.2,552.1" stroke="#b5d66a" stroke-width="0.8" fill="none"/>
<path d="M235.1,591 Q230.7,583.0 220.3,574.9" stroke="#cfe29a" stroke-width="0.8" fill="none"/>
<path d="M243.6,591 Q236.2,566.6 218.8,542.3" stroke="#b5d66a" stroke-width="0.8" fill="none"/>
<path d="M238.6,591 Q243.0,565.4 253.1,539.7" stroke="#a9cf5e" stroke-width="0.8" fill="none"/>
<path d="M245.6,591 Q249.8,582.0 259.5,573.0" stroke="#b5d66a" stroke-width="0.8" fill="none"/>
<path d="M237.8,591 Q238.3,571.2 239.5,551.4" stroke="#a9cf5e" stroke-width="0.8" fill="none"/>
<path d="M233.5,591 Q234.7,574.3 237.6,557.5" stroke="#b5d66a" stroke-width="0.8" fill="none"/>
<path d="M237.5,591 Q241.2,561.0 249.9,531.1" stroke="#b5d66a" stroke-width="0.8" fill="none"/>
<path d="M243.0,591 Q235.3,562.3 217.4,533.5" stroke="#cfe29a" stroke-width="0.8" fill="none"/>
<path d="M246.5,591 Q251.5,563.2 263.0,535.4" stroke="#cfe29a" stroke-width="0.8" fill="none"/>
<path d="M234.7,591 Q231.2,570.0 223.0,548.9" stroke="#cfe29a" stroke-width="0.8" fill="none"/>
<path d="M239.6,591 Q236.8,565.9 230.3,540.7" stroke="#a9cf5e" stroke-width="0.8" fill="none"/>
<path d="M236.7,591 Q230.3,561.1 215.4,531.2" stroke="#cfe29a" stroke-width="0.8" fill="none"/>
<path d="M243.3,591 Q243.8,562.1 244.8,533.2" stroke="#cfe29a" stroke-width="0.8" fill="none"/>
<path d="M239.9,591 Q243.7,570.7 252.6,550.4" stroke="#b5d66a" stroke-width="0.8" fill="none"/>
<path d="M240.2,591 Q238.5,570.5 234.7,550.0" stroke="#cfe29a" stroke-width="0.8" fill="none"/>
<path d="M242.7,591 Q239.2,585.2 231.1,579.5" stroke="#cfe29a" stroke-width="0.8" fill="none"/>
<path d="M237.3,591 Q232.7,574.7 222.0,558.3" stroke="#b5d66a" stroke-width="0.8" fill="none"/>
<path d="M243.5,591 Q238.6,564.3 227.1,537.6" stroke="#b5d66a" stroke-width="0.8" fill="none"/>
<path d="M245.9,591 Q243.3,583.9 237.3,576.8" stroke="#a9cf5e" stroke-width="0.8" fill="none"/>
<path d="M231.2,591 Q233.6,584.9 239.1,578.9" stroke="#cfe29a" stroke-width="0.8" fill="none"/>
<path d="M241.0,591 Q244.1,575.4 251.2,559.8" stroke="#b5d66a" stroke-width="0.8" fill="none"/>
<path d="M243.6,591 Q246.4,573.1 252.9,555.2" stroke="#c2dd7c" stroke-width="0.8" fill="none"/>
<path d="M242.9,591 Q235.2,563.3 217.2,535.7" stroke="#b5d66a" stroke-width="0.8" fill="none"/>
<path d="M240.9,591 Q238.3,581.9 232.4,572.8" stroke="#a9cf5e" stroke-width="0.8" fill="none"/>
<path d="M244.1,591 Q237.6,582.5 222.5,574.0" stroke="#cfe29a" stroke-width="0.8" fill="none"/>
<path d="M244.1,591 Q250.5,575.8 265.6,560.5" stroke="#b5d66a" stroke-width="0.8" fill="none"/>
<path d="M229.7,591 Q233.2,574.0 241.6,557.1" stroke="#c2dd7c" stroke-width="0.8" fill="none"/>
<path d="M230.9,591 Q234.2,584.8 241.9,578.7" stroke="#b5d66a" stroke-width="0.8" fill="none"/>
<path d="M238.9,591 Q244.1,565.6 256.1,540.2" stroke="#b5d66a" stroke-width="0.8" fill="none"/>
<path d="M233.4,591 Q227.8,567.4 214.7,543.7" stroke="#cfe29a" stroke-width="0.8" fill="none"/>
<path d="M233.6,591 Q234.5,584.9 236.7,578.9" stroke="#cfe29a" stroke-width="0.8" fill="none"/>
<path d="M246.4,591 Q243.8,567.0 237.9,543.0" stroke="#cfe29a" stroke-width="0.8" fill="none"/>
<path d="M244.2,591 Q250.9,571.6 266.5,552.2" stroke="#cfe29a" stroke-width="0.8" fill="none"/>
<path d="M231.8,591 Q229.7,583.6 224.7,576.3" stroke="#c2dd7c" stroke-width="0.8" fill="none"/>
<path d="M230.7,591 Q234.0,584.4 241.6,577.7" stroke="#cfe29a" stroke-width="0.8" fill="none"/>
<path d="M239.6,591 Q244.5,564.5 256.2,538.0" stroke="#c2dd7c" stroke-width="0.8" fill="none"/>
<path d="M231.6,591 Q231.3,584.8 230.5,578.7" stroke="#a9cf5e" stroke-width="0.8" fill="none"/>
<path d="M241.1,591 Q246.0,576.2 257.6,561.4" stroke="#a9cf5e" stroke-width="0.8" fill="none"/>
<line x1="255.1" y1="538.7" x2="254.7" y2="545.7" stroke="#d8d8c0" stroke-width="1.3"/>
<line x1="251.4" y1="536.0" x2="251.5" y2="543.0" stroke="#d8d8c0" stroke-width="1.3"/>
<line x1="226.5" y1="543.1" x2="227.2" y2="550.1" stroke="#d8d8c0" stroke-width="1.3"/>
<line x1="234.4" y1="548.4" x2="234.8" y2="555.4" stroke="#d8d8c0" stroke-width="1.3"/>
<line x1="225.1" y1="545.5" x2="225.9" y2="552.5" stroke="#d8d8c0" stroke-width="1.3"/>
<line x1="244.7" y1="531.7" x2="245.7" y2="538.7" stroke="#d8d8c0" stroke-width="1.3"/>
<line x1="219.2" y1="554.7" x2="219.8" y2="561.7" stroke="#d8d8c0" stroke-width="1.3"/>
<line x1="254.8" y1="532.1" x2="255.6" y2="539.1" stroke="#d8d8c0" stroke-width="1.3"/>
<line x1="255.2" y1="547.2" x2="255.8" y2="554.2" stroke="#d8d8c0" stroke-width="1.3"/>
<line x1="219.0" y1="536.4" x2="218.6" y2="543.4" stroke="#d8d8c0" stroke-width="1.3"/>
<line x1="255.2" y1="550.4" x2="254.4" y2="557.4" stroke="#d8d8c0" stroke-width="1.3"/>
<line x1="243.4" y1="547.9" x2="242.4" y2="554.9" stroke="#d8d8c0" stroke-width="1.3"/>
<line x1="257.1" y1="535.2" x2="256.2" y2="542.2" stroke="#d8d8c0" stroke-width="1.3"/>
<line x1="224.1" y1="533.3" x2="224.7" y2="540.3" stroke="#d8d8c0" stroke-width="1.3"/>
<line x1="221.2" y1="537.6" x2="222.0" y2="544.6" stroke="#d8d8c0" stroke-width="1.3"/>
<line x1="217.6" y1="542.3" x2="218.1" y2="549.3" stroke="#d8d8c0" stroke-width="1.3"/>
<path d="M318,597 L340,597 L341,612 L336,624 L322,624 L317,610 Z" fill="#c6c6c9" opacity="0.6" filter="url(#blur1)"/>
<path d="M305.3,597 Q302.7,601.8 301.8,606.5" stroke="#3a3028" stroke-width="0.8" fill="none"/>
<path d="M307.0,597 Q300.4,607.3 295.0,617.6" stroke="#3a3028" stroke-width="0.8" fill="none"/>
<path d="M307.5,597 Q296.9,604.4 296.3,611.7" stroke="#3a3028" stroke-width="0.8" fill="none"/>
<path d="M306.1,597 Q302.6,605.4 304.2,613.9" stroke="#3a3028" stroke-width="0.8" fill="none"/>
<path d="M306.7,597 Q305.0,607.8 306.7,618.6" stroke="#3a3028" stroke-width="0.8" fill="none"/>
<path d="M306.7,597 Q309.8,607.5 304.7,617.9" stroke="#3a3028" stroke-width="0.8" fill="none"/>
<path d="M307.8,597 Q308.5,602.5 314.3,607.9" stroke="#3a3028" stroke-width="0.8" fill="none"/>
<path d="M306.7,597 Q306.9,606.2 307.7,615.5" stroke="#3a3028" stroke-width="0.8" fill="none"/>
<path d="M306.9,597 Q302.7,604.1 294.5,611.3" stroke="#3a3028" stroke-width="0.8" fill="none"/>
<path d="M304.6,597 Q306.6,608.1 309.8,619.1" stroke="#3a3028" stroke-width="0.8" fill="none"/>
<path d="M304.4,597 Q312.1,605.6 316.9,614.2" stroke="#3a3028" stroke-width="0.8" fill="none"/>
<path d="M306.6,597 Q310.7,607.3 316.9,617.6" stroke="#3a3028" stroke-width="0.8" fill="none"/>
<path d="M305.9,597 Q306.2,603.2 300.8,609.4" stroke="#3a3028" stroke-width="0.8" fill="none"/>
<path d="M304.7,597 Q309.2,602.5 311.3,607.9" stroke="#3a3028" stroke-width="0.8" fill="none"/>
<path d="M342.4,597 Q342.7,605.0 346.0,613.1" stroke="#8a7560" stroke-width="0.8" fill="none"/>
<path d="M343.9,597 Q335.9,602.7 332.4,608.5" stroke="#8a7560" stroke-width="0.8" fill="none"/>
<path d="M345.5,597 Q351.0,606.1 349.1,615.3" stroke="#8a7560" stroke-width="0.8" fill="none"/>
<path d="M342.3,597 Q343.3,608.8 342.7,620.6" stroke="#8a7560" stroke-width="0.8" fill="none"/>
<path d="M344.4,597 Q352.3,602.9 356.9,608.7" stroke="#8a7560" stroke-width="0.8" fill="none"/>
<path d="M342.4,597 Q346.8,609.7 345.7,622.4" stroke="#8a7560" stroke-width="0.8" fill="none"/>
<path d="M343.6,597 Q349.7,607.5 345.7,618.1" stroke="#8a7560" stroke-width="0.8" fill="none"/>
<path d="M345.4,597 Q342.2,607.0 334.3,616.9" stroke="#8a7560" stroke-width="0.8" fill="none"/>
<path d="M342.7,597 Q348.3,603.0 345.2,609.1" stroke="#8a7560" stroke-width="0.8" fill="none"/>
<path d="M345.4,597 Q341.8,604.1 340.6,611.3" stroke="#8a7560" stroke-width="0.8" fill="none"/>
<path d="M343.3,597 Q346.9,608.8 341.6,620.7" stroke="#8a7560" stroke-width="0.8" fill="none"/>
<path d="M344.1,597 Q343.6,606.0 339.0,615.0" stroke="#8a7560" stroke-width="0.8" fill="none"/>
<path d="M342.1,597 Q346.0,607.5 354.3,618.0" stroke="#8a7560" stroke-width="0.8" fill="none"/>
<path d="M345.0,597 Q343.1,602.5 347.5,607.9" stroke="#8a7560" stroke-width="0.8" fill="none"/>
<line x1="307" y1="596" x2="307.5" y2="622" stroke="#d9a030" stroke-width="1.4"/>
<line x1="289.5" y1="596" x2="289.9" y2="527.8" stroke="#a4c4b8" stroke-width="0.7"/>
<circle cx="289.5" cy="532.6" r="0.7" fill="#b0603a"/>
<line x1="291.5" y1="596" x2="290.6" y2="541.2" stroke="#a4c4b8" stroke-width="0.7"/>
<circle cx="291.5" cy="551.5" r="0.7" fill="#b0603a"/>
<line x1="294" y1="596" x2="295.3" y2="544.4" stroke="#a4c4b8" stroke-width="0.7"/>
<circle cx="294.0" cy="548.4" r="0.7" fill="#b0603a"/>
<line x1="296.5" y1="596" x2="297.0" y2="530.2" stroke="#a4c4b8" stroke-width="0.7"/>
<circle cx="296.5" cy="534.6" r="0.7" fill="#b0603a"/>
<line x1="299" y1="596" x2="297.8" y2="534.3" stroke="#a4c4b8" stroke-width="0.7"/>
<circle cx="299.0" cy="545.6" r="0.7" fill="#b0603a"/>
<line x1="301.5" y1="596" x2="301.9" y2="524.6" stroke="#a4c4b8" stroke-width="0.7"/>
<circle cx="301.5" cy="532.1" r="0.7" fill="#b0603a"/>
<path d="M322.0,597 Q317.4,573.7 306.8,550.3" stroke="#a6c98a" stroke-width="0.8" fill="none"/>
<path d="M330.9,597 Q335.3,568.7 345.5,540.4" stroke="#8bb86a" stroke-width="0.8" fill="none"/>
<path d="M327.2,597 Q332.1,573.7 343.7,550.5" stroke="#7aa85c" stroke-width="0.8" fill="none"/>
<path d="M332.4,597 Q338.9,576.0 354.3,555.0" stroke="#7aa85c" stroke-width="0.8" fill="none"/>
<path d="M321.6,597 Q318.3,566.5 310.4,536.0" stroke="#8bb86a" stroke-width="0.8" fill="none"/>
<path d="M330.3,597 Q334.8,574.9 345.3,552.8" stroke="#b0d07a" stroke-width="0.8" fill="none"/>
<path d="M326.8,597 Q329.1,575.6 334.4,554.3" stroke="#b0d07a" stroke-width="0.8" fill="none"/>
<path d="M317.3,597 Q318.6,583.7 321.7,570.3" stroke="#b0d07a" stroke-width="0.8" fill="none"/>
<path d="M320.5,597 Q321.7,566.4 324.6,535.8" stroke="#a6c98a" stroke-width="0.8" fill="none"/>
<path d="M318.8,597 Q318.9,578.2 319.1,559.4" stroke="#b0d07a" stroke-width="0.8" fill="none"/>
<path d="M315.4,597 Q310.6,570.5 299.5,544.0" stroke="#a6c98a" stroke-width="0.8" fill="none"/>
<path d="M313.4,597 Q314.7,570.2 317.7,543.4" stroke="#7aa85c" stroke-width="0.8" fill="none"/>
<path d="M310.5,597 Q313.4,577.6 320.3,558.2" stroke="#8bb86a" stroke-width="0.8" fill="none"/>
<path d="M313.3,597 Q316.6,576.1 324.1,555.3" stroke="#7aa85c" stroke-width="0.8" fill="none"/>
<path d="M311.4,597 Q306.9,576.3 296.4,555.5" stroke="#b0d07a" stroke-width="0.8" fill="none"/>
<path d="M310.8,597 Q315.4,571.2 326.2,545.5" stroke="#8bb86a" stroke-width="0.8" fill="none"/>
<path d="M319.5,597 Q315.1,588.7 304.7,580.3" stroke="#7aa85c" stroke-width="0.8" fill="none"/>
<path d="M315.8,597 Q316.1,570.1 316.9,543.2" stroke="#a6c98a" stroke-width="0.8" fill="none"/>
<path d="M324.9,597 Q324.7,568.5 324.2,539.9" stroke="#8bb86a" stroke-width="0.8" fill="none"/>
<path d="M329.4,597 Q328.4,589.1 326.2,581.1" stroke="#b0d07a" stroke-width="0.8" fill="none"/>
<path d="M328.9,597 Q336.8,577.2 355.3,557.5" stroke="#a6c98a" stroke-width="0.8" fill="none"/>
<path d="M310.7,597 Q310.4,589.3 309.5,581.7" stroke="#a6c98a" stroke-width="0.8" fill="none"/>
<path d="M312.2,597 Q316.5,588.8 326.3,580.5" stroke="#8bb86a" stroke-width="0.8" fill="none"/>
<path d="M312.5,597 Q316.7,566.0 326.5,534.9" stroke="#8bb86a" stroke-width="0.8" fill="none"/>
<path d="M321.6,597 Q319.3,577.7 313.9,558.5" stroke="#a6c98a" stroke-width="0.8" fill="none"/>
<path d="M314.8,597 Q322.9,576.9 341.7,556.9" stroke="#b0d07a" stroke-width="0.8" fill="none"/>
<path d="M332.0,597 Q339.6,566.3 357.4,535.6" stroke="#a6c98a" stroke-width="0.8" fill="none"/>
<path d="M328.0,597 Q331.6,575.0 339.8,552.9" stroke="#a6c98a" stroke-width="0.8" fill="none"/>
<path d="M314.4,597 Q315.1,577.7 316.6,558.4" stroke="#a6c98a" stroke-width="0.8" fill="none"/>
<path d="M322.9,597 Q328.4,575.2 341.1,553.3" stroke="#b0d07a" stroke-width="0.8" fill="none"/>
<path d="M330.1,597 Q332.6,587.7 338.4,578.3" stroke="#a6c98a" stroke-width="0.8" fill="none"/>
<path d="M329.2,597 Q330.2,576.2 332.5,555.3" stroke="#b0d07a" stroke-width="0.8" fill="none"/>
<path d="M318.3,597 Q324.3,577.7 338.4,558.3" stroke="#b0d07a" stroke-width="0.8" fill="none"/>
<path d="M332.8,597 Q328.6,569.6 318.7,542.2" stroke="#8bb86a" stroke-width="0.8" fill="none"/>
<path d="M329.7,597 Q326.2,582.1 317.8,567.2" stroke="#8bb86a" stroke-width="0.8" fill="none"/>
<path d="M317.7,597 Q320.8,584.7 328.1,572.5" stroke="#8bb86a" stroke-width="0.8" fill="none"/>
<path d="M331.1,597 Q337.8,576.3 353.5,555.6" stroke="#a6c98a" stroke-width="0.8" fill="none"/>
<path d="M333.9,597 Q329.1,570.2 318.0,543.4" stroke="#8bb86a" stroke-width="0.8" fill="none"/>
<path d="M318.1,597 Q317.4,576.3 315.8,555.6" stroke="#7aa85c" stroke-width="0.8" fill="none"/>
<path d="M315.8,597 Q311.6,569.2 301.9,541.3" stroke="#7aa85c" stroke-width="0.8" fill="none"/>
<path d="M324.1,597 Q319.4,571.0 308.6,545.0" stroke="#7aa85c" stroke-width="0.8" fill="none"/>
<path d="M315.3,597 Q317.9,575.6 324.0,554.1" stroke="#a6c98a" stroke-width="0.8" fill="none"/>
<path d="M328.9,597 Q331.2,570.0 336.5,543.0" stroke="#7aa85c" stroke-width="0.8" fill="none"/>
<path d="M324.9,597 Q320.7,584.9 310.8,572.7" stroke="#8bb86a" stroke-width="0.8" fill="none"/>
<path d="M330.6,597 Q327.2,588.1 319.1,579.3" stroke="#a6c98a" stroke-width="0.8" fill="none"/>
<path d="M312.1,597 Q313.4,570.8 316.5,544.7" stroke="#8bb86a" stroke-width="0.8" fill="none"/>
<path d="M325.4,597 Q330.7,586.4 342.9,575.8" stroke="#a6c98a" stroke-width="0.8" fill="none"/>
<path d="M319.7,597 Q323.6,584.2 332.8,571.3" stroke="#a6c98a" stroke-width="0.8" fill="none"/>
<path d="M330.0,597 Q333.1,585.1 340.2,573.1" stroke="#7aa85c" stroke-width="0.8" fill="none"/>
<path d="M312.8,597 Q308.1,572.7 297.1,548.4" stroke="#8bb86a" stroke-width="0.8" fill="none"/>
<path d="M343,596 Q338.5,581.0 334,560" stroke="#5e9a48" stroke-width="1.5" fill="none"/>
<path d="M343,596 Q343.0,582.0 343,562" stroke="#5e9a48" stroke-width="1.5" fill="none"/>
<path d="M343,596 Q351.5,583.0 360,564" stroke="#5e9a48" stroke-width="1.5" fill="none"/>
<path d="M343,596 Q355.5,590.0 368,578" stroke="#5e9a48" stroke-width="1.5" fill="none"/>
<path d="M343,596 Q334.5,586.0 326,570" stroke="#5e9a48" stroke-width="1.5" fill="none"/>
<path d="M343,596 Q347.5,586.0 352,570" stroke="#5e9a48" stroke-width="1.5" fill="none"/>
<path d="M343,596 Q357.5,588.5 372,575" stroke="#5e9a48" stroke-width="1.5" fill="none"/>
<path d="M343.4,561 l1,6" stroke="#8a5a2a" stroke-width="2.5" stroke-linecap="round"/>
<path d="M359.5,562 l-1.5,6" stroke="#8a5a2a" stroke-width="2.5" stroke-linecap="round"/>
<ellipse cx="307.9" cy="569" rx="2.6" ry="1.3" transform="rotate(0 307.9 569)" fill="#24352e"/>
<ellipse cx="303.9" cy="573" rx="2.6" ry="1.3" transform="rotate(-40 303.9 573)" fill="#24352e"/>
<ellipse cx="311.9" cy="574" rx="2.6" ry="1.3" transform="rotate(40 311.9 574)" fill="#24352e"/>
<ellipse cx="302.9" cy="579" rx="2.6" ry="1.3" transform="rotate(-60 302.9 579)" fill="#24352e"/>
<ellipse cx="312.9" cy="580" rx="2.6" ry="1.3" transform="rotate(60 312.9 580)" fill="#24352e"/>
<ellipse cx="304.9" cy="584" rx="2.6" ry="1.3" transform="rotate(-30 304.9 584)" fill="#24352e"/>
<ellipse cx="311.9" cy="586" rx="2.6" ry="1.3" transform="rotate(30 311.9 586)" fill="#24352e"/>
<ellipse cx="307.9" cy="576" rx="2.6" ry="1.3" transform="rotate(0 307.9 576)" fill="#24352e"/>
<line x1="307.5" y1="568" x2="307" y2="597" stroke="#2a3a30" stroke-width="0.9"/>
</g>
<g id="partb">
<text x="578" y="92" font-size="23.4">Plant diversity gradient</text>
<path d="M546.6,147.3 V363 M546.6,147.3 H551 M551,114.1 V180.4 M551,114.1 H608.6 M551,180.4 H553.6 M553.6,142.8 V219 M553.6,142.8 H608.6 M553.6,219 H583.1 M583.1,186.3 V251.3 M583.1,186.3 H590.4 M590.4,171.6 V199.9 M590.4,171.6 H608.6 M590.4,199.9 H608.6 M583.1,251.3 H589.7 M589.7,229.4 V273.2 M589.7,229.4 H608.6 M589.7,273.2 H604.4 M604.4,258.8 V287.7 M604.4,258.8 H608.6 M604.4,287.7 H608.6 M546.6,363 H563 M563,331 V395.4 M563,331 H569.6 M569.6,316.6 V345.2 M569.6,316.6 H608.6 M569.6,345.2 H608.6 M563,395.4 H567.9 M567.9,374.1 V417.1 M567.9,374.1 H608.6 M567.9,417.1 H589.7 M589.7,403.2 V432 M589.7,403.2 H608.6 M589.7,432 H608.6" stroke="#222" stroke-width="1.2" fill="none"/>
<text x="608" y="120.3" font-size="18.7" font-style="italic" fill="#137a13">Acorus calamus</text>
<text x="608" y="142.8" font-size="18.7" font-style="italic" fill="#137a13">Sagittaria trifolia subsp.</text>
<text x="608" y="158.2" font-size="18.7" font-style="italic" fill="#137a13">Leucopetala</text>
<text x="608" y="178.8" font-size="18.7" font-style="italic" fill="#137a13">Pontederia cordata</text>
<text x="608" y="205.5" font-size="18.7" font-style="italic" fill="#137a13">Canna glauca</text>
<text x="608" y="233.9" font-size="18.7" font-style="italic" fill="#3aa6df">Cyperus rotundus</text>
<text x="608" y="264.7" font-size="18.7" font-style="italic" fill="#e85a26">Festuca elata</text>
<text x="608" y="293.0" font-size="18.7" font-style="italic" fill="#e85a26">Cynodon dactylon</text>
<text x="608" y="321.4" font-size="18.7" font-style="italic" fill="#137a13">Lythrum salicaria</text>
<text x="608" y="350.5" font-size="18.7" font-style="italic" fill="#f5b52e">Trifolium repens</text>
<text x="608" y="379.3" font-size="18.7" font-style="italic" fill="#137a13">Alternanthera philoxeroides</text>
<text x="608" y="408.2" font-size="18.7" font-style="italic" fill="#137a13">Oenanthe javanica</text>
<text x="608" y="436.1" font-size="18.7" font-style="italic" fill="#137a13">Artemisia argyi</text>
<rect x="843.1" y="102.4" width="395.67" height="348.96" fill="#eeeeee"/>
<rect x="843.10" y="102.40" width="11.99" height="29.08" fill="#85ab73"/>
<rect x="998.97" y="102.40" width="11.99" height="29.08" fill="#85ab73"/>
<rect x="1094.89" y="102.40" width="11.99" height="29.08" fill="#85ab73"/>
<rect x="1118.87" y="102.40" width="11.99" height="29.08" fill="#85ab73"/>
<rect x="1130.86" y="102.40" width="11.99" height="29.08" fill="#85ab73"/>
<rect x="1142.85" y="102.40" width="11.99" height="29.08" fill="#85ab73"/>
<rect x="1166.83" y="102.40" width="11.99" height="29.08" fill="#85ab73"/>
<rect x="1178.82" y="102.40" width="11.99" height="29.08" fill="#85ab73"/>
<rect x="1202.80" y="102.40" width="11.99" height="29.08" fill="#85ab73"/>
<rect x="1214.79" y="102.40" width="11.99" height="29.08" fill="#85ab73"/>
<rect x="1226.78" y="102.40" width="11.99" height="29.08" fill="#85ab73"/>
<rect x="855.09" y="131.48" width="11.99" height="29.08" fill="#85ab73"/>
<rect x="1046.93" y="131.48" width="11.99" height="29.08" fill="#85ab73"/>
<rect x="1070.91" y="131.48" width="11.99" height="29.08" fill="#85ab73"/>
<rect x="1094.89" y="131.48" width="11.99" height="29.08" fill="#85ab73"/>
<rect x="1106.88" y="131.48" width="11.99" height="29.08" fill="#85ab73"/>
<rect x="1166.83" y="131.48" width="11.99" height="29.08" fill="#85ab73"/>
<rect x="1190.81" y="131.48" width="11.99" height="29.08" fill="#85ab73"/>
<rect x="1214.79" y="131.48" width="11.99" height="29.08" fill="#85ab73"/>
<rect x="1226.78" y="131.48" width="11.99" height="29.08" fill="#85ab73"/>
<rect x="867.08" y="160.56" width="11.99" height="29.08" fill="#85ab73"/>
<rect x="998.97" y="160.56" width="11.99" height="29.08" fill="#85ab73"/>
<rect x="1082.90" y="160.56" width="11.99" height="29.08" fill="#85ab73"/>
<rect x="1094.89" y="160.56" width="11.99" height="29.08" fill="#85ab73"/>
<rect x="1166.83" y="160.56" width="11.99" height="29.08" fill="#85ab73"/>
<rect x="1178.82" y="160.56" width="11.99" height="29.08" fill="#85ab73"/>
<rect x="1190.81" y="160.56" width="11.99" height="29.08" fill="#85ab73"/>
<rect x="1202.80" y="160.56" width="11.99" height="29.08" fill="#85ab73"/>
<rect x="1226.78" y="160.56" width="11.99" height="29.08" fill="#85ab73"/>
<rect x="879.07" y="189.64" width="11.99" height="29.08" fill="#85ab73"/>
<rect x="1046.93" y="189.64" width="11.99" height="29.08" fill="#85ab73"/>
<rect x="1082.90" y="189.64" width="11.99" height="29.08" fill="#85ab73"/>
<rect x="1130.86" y="189.64" width="11.99" height="29.08" fill="#85ab73"/>
<rect x="1154.84" y="189.64" width="11.99" height="29.08" fill="#85ab73"/>
<rect x="1166.83" y="189.64" width="11.99" height="29.08" fill="#85ab73"/>
<rect x="1190.81" y="189.64" width="11.99" height="29.08" fill="#85ab73"/>
<rect x="1202.80" y="189.64" width="11.99" height="29.08" fill="#85ab73"/>
<rect x="1214.79" y="189.64" width="11.99" height="29.08" fill="#85ab73"/>
<rect x="891.06" y="218.72" width="11.99" height="29.08" fill="#80c8ea"/>
<rect x="1034.94" y="218.72" width="11.99" height="29.08" fill="#80c8ea"/>
<rect x="1118.87" y="218.72" width="11.99" height="29.08" fill="#80c8ea"/>
<rect x="1142.85" y="218.72" width="11.99" height="29.08" fill="#80c8ea"/>
<rect x="1154.84" y="218.72" width="11.99" height="29.08" fill="#80c8ea"/>
<rect x="1178.82" y="218.72" width="11.99" height="29.08" fill="#80c8ea"/>
<rect x="1190.81" y="218.72" width="11.99" height="29.08" fill="#80c8ea"/>
<rect x="1202.80" y="218.72" width="11.99" height="29.08" fill="#80c8ea"/>
<rect x="1214.79" y="218.72" width="11.99" height="29.08" fill="#80c8ea"/>
<rect x="1226.78" y="218.72" width="11.99" height="29.08" fill="#80c8ea"/>
<rect x="903.05" y="247.80" width="11.99" height="29.08" fill="#f2996f"/>
<rect x="986.98" y="247.80" width="11.99" height="29.08" fill="#f2996f"/>
<rect x="1070.91" y="247.80" width="11.99" height="29.08" fill="#f2996f"/>
<rect x="1154.84" y="247.80" width="11.99" height="29.08" fill="#f2996f"/>
<rect x="1166.83" y="247.80" width="11.99" height="29.08" fill="#f2996f"/>
<rect x="1178.82" y="247.80" width="11.99" height="29.08" fill="#f2996f"/>
<rect x="1202.80" y="247.80" width="11.99" height="29.08" fill="#f2996f"/>
<rect x="1214.79" y="247.80" width="11.99" height="29.08" fill="#f2996f"/>
<rect x="1226.78" y="247.80" width="11.99" height="29.08" fill="#f2996f"/>
<rect x="915.04" y="276.88" width="11.99" height="29.08" fill="#f2996f"/>
<rect x="986.98" y="276.88" width="11.99" height="29.08" fill="#f2996f"/>
<rect x="1070.91" y="276.88" width="11.99" height="29.08" fill="#f2996f"/>
<rect x="1106.88" y="276.88" width="11.99" height="29.08" fill="#f2996f"/>
<rect x="1142.85" y="276.88" width="11.99" height="29.08" fill="#f2996f"/>
<rect x="1154.84" y="276.88" width="11.99" height="29.08" fill="#f2996f"/>
<rect x="1190.81" y="276.88" width="11.99" height="29.08" fill="#f2996f"/>
<rect x="1202.80" y="276.88" width="11.99" height="29.08" fill="#f2996f"/>
<rect x="1226.78" y="276.88" width="11.99" height="29.08" fill="#f2996f"/>
<rect x="927.03" y="305.96" width="11.99" height="29.08" fill="#85ab73"/>
<rect x="1022.95" y="305.96" width="11.99" height="29.08" fill="#85ab73"/>
<rect x="1082.90" y="305.96" width="11.99" height="29.08" fill="#85ab73"/>
<rect x="1106.88" y="305.96" width="11.99" height="29.08" fill="#85ab73"/>
<rect x="1130.86" y="305.96" width="11.99" height="29.08" fill="#85ab73"/>
<rect x="1154.84" y="305.96" width="11.99" height="29.08" fill="#85ab73"/>
<rect x="1166.83" y="305.96" width="11.99" height="29.08" fill="#85ab73"/>
<rect x="1178.82" y="305.96" width="11.99" height="29.08" fill="#85ab73"/>
<rect x="1190.81" y="305.96" width="11.99" height="29.08" fill="#85ab73"/>
<rect x="1214.79" y="305.96" width="11.99" height="29.08" fill="#85ab73"/>
<rect x="1226.78" y="305.96" width="11.99" height="29.08" fill="#85ab73"/>
<rect x="939.02" y="335.04" width="11.99" height="29.08" fill="#f6b52a"/>
<rect x="1010.96" y="335.04" width="11.99" height="29.08" fill="#f6b52a"/>
<rect x="1058.92" y="335.04" width="11.99" height="29.08" fill="#f6b52a"/>
<rect x="1106.88" y="335.04" width="11.99" height="29.08" fill="#f6b52a"/>
<rect x="1154.84" y="335.04" width="11.99" height="29.08" fill="#f6b52a"/>
<rect x="1166.83" y="335.04" width="11.99" height="29.08" fill="#f6b52a"/>
<rect x="1178.82" y="335.04" width="11.99" height="29.08" fill="#f6b52a"/>
<rect x="1202.80" y="335.04" width="11.99" height="29.08" fill="#f6b52a"/>
<rect x="1226.78" y="335.04" width="11.99" height="29.08" fill="#f6b52a"/>
<rect x="951.01" y="364.12" width="11.99" height="29.08" fill="#85ab73"/>
<rect x="1034.94" y="364.12" width="11.99" height="29.08" fill="#85ab73"/>
<rect x="1058.92" y="364.12" width="11.99" height="29.08" fill="#85ab73"/>
<rect x="1094.89" y="364.12" width="11.99" height="29.08" fill="#85ab73"/>
<rect x="1118.87" y="364.12" width="11.99" height="29.08" fill="#85ab73"/>
<rect x="1130.86" y="364.12" width="11.99" height="29.08" fill="#85ab73"/>
<rect x="1142.85" y="364.12" width="11.99" height="29.08" fill="#85ab73"/>
<rect x="1154.84" y="364.12" width="11.99" height="29.08" fill="#85ab73"/>
<rect x="1178.82" y="364.12" width="11.99" height="29.08" fill="#85ab73"/>
<rect x="1202.80" y="364.12" width="11.99" height="29.08" fill="#85ab73"/>
<rect x="963.00" y="393.20" width="11.99" height="29.08" fill="#85ab73"/>
<rect x="1022.95" y="393.20" width="11.99" height="29.08" fill="#85ab73"/>
<rect x="1082.90" y="393.20" width="11.99" height="29.08" fill="#85ab73"/>
<rect x="1166.83" y="393.20" width="11.99" height="29.08" fill="#85ab73"/>
<rect x="1190.81" y="393.20" width="11.99" height="29.08" fill="#85ab73"/>
<rect x="1214.79" y="393.20" width="11.99" height="29.08" fill="#85ab73"/>
<rect x="974.99" y="422.28" width="11.99" height="29.08" fill="#85ab73"/>
<rect x="1010.96" y="422.28" width="11.99" height="29.08" fill="#85ab73"/>
<rect x="1070.91" y="422.28" width="11.99" height="29.08" fill="#85ab73"/>
<rect x="1118.87" y="422.28" width="11.99" height="29.08" fill="#85ab73"/>
<rect x="1154.84" y="422.28" width="11.99" height="29.08" fill="#85ab73"/>
<rect x="1178.82" y="422.28" width="11.99" height="29.08" fill="#85ab73"/>
<rect x="1190.81" y="422.28" width="11.99" height="29.08" fill="#85ab73"/>
<rect x="1214.79" y="422.28" width="11.99" height="29.08" fill="#85ab73"/>
<path d="M855.09,102.4 V451.36 M879.07,102.4 V451.36 M903.05,102.4 V451.36 M927.03,102.4 V451.36 M951.01,102.4 V451.36 M974.99,102.4 V451.36 M998.97,102.4 V451.36 M1022.95,102.4 V451.36 M1046.93,102.4 V451.36 M1070.91,102.4 V451.36 M1094.89,102.4 V451.36 M1118.87,102.4 V451.36 M1142.85,102.4 V451.36 M1166.83,102.4 V451.36 M1190.81,102.4 V451.36 M1214.79,102.4 V451.36 M1238.77,102.4 V451.36" stroke="#000" stroke-opacity="0.06" stroke-width="1" fill="none"/>
<path d="M843.10,102.4 V451.36 M867.08,102.4 V451.36 M891.06,102.4 V451.36 M915.04,102.4 V451.36 M939.02,102.4 V451.36 M963.00,102.4 V451.36 M986.98,102.4 V451.36 M1010.96,102.4 V451.36 M1034.94,102.4 V451.36 M1058.92,102.4 V451.36 M1082.90,102.4 V451.36 M1106.88,102.4 V451.36 M1130.86,102.4 V451.36 M1154.84,102.4 V451.36 M1178.82,102.4 V451.36 M1202.80,102.4 V451.36 M1226.78,102.4 V451.36" stroke="#000" stroke-opacity="0.16" stroke-width="1" fill="none"/>
<path d="M843.1,102.80 H1238.77 M843.1,131.88 H1238.77 M843.1,160.96 H1238.77 M843.1,190.04 H1238.77 M843.1,219.12 H1238.77 M843.1,248.20 H1238.77 M843.1,277.28 H1238.77 M843.1,306.36 H1238.77 M843.1,335.44 H1238.77 M843.1,364.52 H1238.77 M843.1,393.60 H1238.77 M843.1,422.68 H1238.77 M843.1,451.76 H1238.77" stroke="#000" stroke-opacity="0.15" stroke-width="1" fill="none"/>
<line x1="986.98" y1="102.4" x2="986.98" y2="451.36" stroke="#777" stroke-width="1.5"/>
<line x1="1070.91" y1="102.4" x2="1070.91" y2="451.36" stroke="#777" stroke-width="1.5"/>
<line x1="1154.84" y1="102.4" x2="1154.84" y2="451.36" stroke="#777" stroke-width="1.5"/>
<path d="M844.7,453 V463 Q844.7,465 846.7,465 H983.3 Q985.3,465 985.3,463 V453 M914.9,465 V471" stroke="#c4c4c4" stroke-width="1.2" fill="none"/>
<text x="914.9" y="494" font-size="23.3" text-anchor="middle">1</text>
<path d="M989.5,453 V463 Q989.5,465 991.5,465 H1064.2 Q1066.2,465 1066.2,463 V453 M1028,465 V471" stroke="#c4c4c4" stroke-width="1.2" fill="none"/>
<text x="1028" y="494" font-size="23.3" text-anchor="middle">2</text>
<path d="M1074.3,453 V463 Q1074.3,465 1076.3,465 H1149.2 Q1151.2,465 1151.2,463 V453 M1113,465 V471" stroke="#c4c4c4" stroke-width="1.2" fill="none"/>
<text x="1113" y="494" font-size="23.3" text-anchor="middle">4</text>
<path d="M1158.3,453 V463 Q1158.3,465 1160.3,465 H1233.3 Q1235.3,465 1235.3,463 V453 M1197.1,465 V471" stroke="#c4c4c4" stroke-width="1.2" fill="none"/>
<text x="1197.1" y="494" font-size="23.3" text-anchor="middle">8</text>
<text x="574.3" y="528.7" font-size="23.4">Phenological stages</text>
<text x="674" y="708.3" font-size="18.9" text-anchor="middle">Seedling</text>
<text x="871.9" y="708.3" font-size="18.9" text-anchor="middle">Fast-growing</text>
<text x="1035.4" y="708.3" font-size="18.9" text-anchor="middle">Reproductive</text>
<text x="1191.8" y="708.3" font-size="18.9" text-anchor="middle">Wilting</text>
<path d="M677.0,674.2 Q674.6,645.5 656.0,622.0" stroke="#6a9e4c" stroke-width="0.78" fill="none" stroke-linecap="round"/>
<path d="M679.8,674.2 Q679.0,641.6 660.0,615.0" stroke="#86b46a" stroke-width="0.79" fill="none" stroke-linecap="round"/>
<path d="M678.1,674.2 Q677.6,638.9 664.0,610.0" stroke="#6a9e4c" stroke-width="0.74" fill="none" stroke-linecap="round"/>
<path d="M674.4,674.2 Q673.4,640.0 668.0,612.0" stroke="#86b46a" stroke-width="0.84" fill="none" stroke-linecap="round"/>
<path d="M678.0,674.2 Q677.5,637.2 672.0,607.0" stroke="#6a9e4c" stroke-width="0.85" fill="none" stroke-linecap="round"/>
<path d="M678.1,674.2 Q678.0,636.7 676.0,606.0" stroke="#79a85a" stroke-width="0.91" fill="none" stroke-linecap="round"/>
<path d="M674.2,674.2 Q674.3,636.7 680.5,606.0" stroke="#79a85a" stroke-width="0.83" fill="none" stroke-linecap="round"/>
<path d="M679.2,674.2 Q679.6,637.8 684.0,608.0" stroke="#86b46a" stroke-width="0.91" fill="none" stroke-linecap="round"/>
<path d="M677.4,674.2 Q678.8,638.9 688.0,610.0" stroke="#6a9e4c" stroke-width="0.64" fill="none" stroke-linecap="round"/>
<path d="M674.4,674.2 Q676.6,641.1 691.0,614.0" stroke="#6a9e4c" stroke-width="0.96" fill="none" stroke-linecap="round"/>
<path d="M680.8,674.2 Q683.4,646.6 696.4,624.0" stroke="#86b46a" stroke-width="0.72" fill="none" stroke-linecap="round"/>
<path d="M679.1,674.2 Q680.6,643.3 694.0,618.0" stroke="#79a85a" stroke-width="0.66" fill="none" stroke-linecap="round"/>
<path d="M679.2,674.2 Q678.1,644.4 666.0,620.0" stroke="#6a9e4c" stroke-width="0.76" fill="none" stroke-linecap="round"/>
<path d="M680.5,674.2 Q681.4,644.4 686.0,620.0" stroke="#79a85a" stroke-width="0.71" fill="none" stroke-linecap="round"/>
<path d="M680.3,674.2 Q680.3,640.0 678.0,612.0" stroke="#6a9e4c" stroke-width="0.95" fill="none" stroke-linecap="round"/>
<path d="M865.4,676.3 Q864.8,625.4 827.4,583.7" stroke="#86b46a" stroke-width="0.88" fill="none" stroke-linecap="round"/>
<path d="M869.2,676.3 Q866.7,620.6 832.0,575.0" stroke="#6a9e4c" stroke-width="0.93" fill="none" stroke-linecap="round"/>
<path d="M873.3,676.3 Q867.9,612.3 838.0,560.0" stroke="#79a85a" stroke-width="0.85" fill="none" stroke-linecap="round"/>
<path d="M869.7,676.3 Q869.6,610.1 845.0,556.0" stroke="#6a9e4c" stroke-width="1.12" fill="none" stroke-linecap="round"/>
<path d="M862.3,676.3 Q861.1,615.1 852.0,565.0" stroke="#6a9e4c" stroke-width="1.00" fill="none" stroke-linecap="round"/>
<path d="M873.6,676.3 Q871.2,618.9 858.0,572.0" stroke="#6a9e4c" stroke-width="1.06" fill="none" stroke-linecap="round"/>
<path d="M861.4,676.3 Q861.5,609.6 862.0,555.0" stroke="#79a85a" stroke-width="0.80" fill="none" stroke-linecap="round"/>
<path d="M871.9,676.3 Q871.1,608.4 868.0,552.8" stroke="#86b46a" stroke-width="0.92" fill="none" stroke-linecap="round"/>
<path d="M872.2,676.3 Q872.1,612.3 871.0,560.0" stroke="#6a9e4c" stroke-width="1.20" fill="none" stroke-linecap="round"/>
<path d="M868.2,676.3 Q869.1,610.1 876.0,556.0" stroke="#79a85a" stroke-width="1.20" fill="none" stroke-linecap="round"/>
<path d="M862.8,676.3 Q863.8,615.1 882.0,565.0" stroke="#86b46a" stroke-width="0.93" fill="none" stroke-linecap="round"/>
<path d="M863.9,676.3 Q864.3,620.6 886.0,575.0" stroke="#79a85a" stroke-width="0.88" fill="none" stroke-linecap="round"/>
<path d="M868.7,676.3 Q868.8,612.3 890.0,560.0" stroke="#6a9e4c" stroke-width="0.95" fill="none" stroke-linecap="round"/>
<path d="M866.1,676.3 Q871.7,617.8 895.0,570.0" stroke="#6a9e4c" stroke-width="1.13" fill="none" stroke-linecap="round"/>
<path d="M861.7,676.3 Q864.6,626.5 899.8,585.8" stroke="#86b46a" stroke-width="0.86" fill="none" stroke-linecap="round"/>
<path d="M872.5,676.3 Q868.5,628.8 848.0,590.0" stroke="#79a85a" stroke-width="1.09" fill="none" stroke-linecap="round"/>
<path d="M862.0,676.3 Q864.8,631.6 884.0,595.0" stroke="#86b46a" stroke-width="0.88" fill="none" stroke-linecap="round"/>
<path d="M873.1,676.3 Q870.8,628.8 860.0,590.0" stroke="#86b46a" stroke-width="0.83" fill="none" stroke-linecap="round"/>
<path d="M860.5,676.3 Q860.7,623.3 873.0,580.0" stroke="#86b46a" stroke-width="1.19" fill="none" stroke-linecap="round"/>
<path d="M863.1,676.3 Q859.2,634.3 835.0,600.0" stroke="#6a9e4c" stroke-width="0.97" fill="none" stroke-linecap="round"/>
<path d="M1031.8,679.5 Q1019.8,606.0 984.0,557.0" stroke="#6a9e4c" stroke-width="1.08" fill="none" stroke-linecap="round"/>
<path d="M1030.4,679.5 Q1016.5,619.8 990.0,580.0" stroke="#79a85a" stroke-width="1.01" fill="none" stroke-linecap="round"/>
<path d="M1029.8,679.5 Q1020.8,628.8 998.0,595.0" stroke="#86b46a" stroke-width="1.22" fill="none" stroke-linecap="round"/>
<path d="M1031.9,679.5 Q1026.0,613.8 1005.0,570.0" stroke="#79a85a" stroke-width="1.27" fill="none" stroke-linecap="round"/>
<path d="M1027.9,679.5 Q1023.9,607.8 1012.0,560.0" stroke="#79a85a" stroke-width="0.99" fill="none" stroke-linecap="round"/>
<path d="M1027.6,679.5 Q1025.4,631.8 1018.0,600.0" stroke="#86b46a" stroke-width="1.37" fill="none" stroke-linecap="round"/>
<path d="M1025.7,679.5 Q1029.4,607.8 1035.0,560.0" stroke="#6a9e4c" stroke-width="1.37" fill="none" stroke-linecap="round"/>
<path d="M1030.1,679.5 Q1035.7,598.8 1045.0,545.0" stroke="#86b46a" stroke-width="1.36" fill="none" stroke-linecap="round"/>
<path d="M1032.0,679.5 Q1040.2,610.8 1052.0,565.0" stroke="#6a9e4c" stroke-width="1.34" fill="none" stroke-linecap="round"/>
<path d="M1032.3,679.5 Q1038.0,625.8 1058.0,590.0" stroke="#79a85a" stroke-width="1.21" fill="none" stroke-linecap="round"/>
<path d="M1025.1,679.5 Q1043.6,607.8 1062.0,560.0" stroke="#6a9e4c" stroke-width="1.09" fill="none" stroke-linecap="round"/>
<path d="M1025.2,679.5 Q1034.3,595.2 1068.0,539.0" stroke="#86b46a" stroke-width="1.11" fill="none" stroke-linecap="round"/>
<path d="M1032.1,679.5 Q1035.6,631.8 1040.0,600.0" stroke="#86b46a" stroke-width="1.26" fill="none" stroke-linecap="round"/>
<path d="M1031.9,679.5 Q1029.6,619.8 1025.0,580.0" stroke="#6a9e4c" stroke-width="1.00" fill="none" stroke-linecap="round"/>
<path d="M1028.6,679.5 Q1020.9,614.2 1003,549" stroke="#6fa452" stroke-width="1.1" fill="none"/>
<path d="M1003,549 L995.6,527.3" stroke="#7aa85a" stroke-width="0.7"/>
<path d="M1003,549 L994.5,540.0" stroke="#7aa85a" stroke-width="0.7"/>
<path d="M1003,549 L1007.3,531.5" stroke="#7aa85a" stroke-width="0.7"/>
<path d="M1003,549 L1011.5,548.6" stroke="#7aa85a" stroke-width="0.7"/>
<ellipse cx="997.8" cy="528.7" rx="1.7" ry="1.3" fill="#9e6b3a"/>
<ellipse cx="993.5" cy="528.8" rx="1.7" ry="1.3" fill="#9e6b3a"/>
<ellipse cx="994.2" cy="525.1" rx="1.7" ry="1.3" fill="#9e6b3a"/>
<ellipse cx="996.9" cy="525.1" rx="1.7" ry="1.3" fill="#9e6b3a"/>
<circle cx="995.6" cy="527.3" r="1" fill="#9e6b3a"/>
<ellipse cx="996.3" cy="541.8" rx="1.7" ry="1.3" fill="#9e6b3a"/>
<ellipse cx="993.2" cy="542.2" rx="1.7" ry="1.3" fill="#9e6b3a"/>
<ellipse cx="992.8" cy="538.0" rx="1.7" ry="1.3" fill="#9e6b3a"/>
<ellipse cx="996.2" cy="538.0" rx="1.7" ry="1.3" fill="#9e6b3a"/>
<circle cx="994.5" cy="540" r="1" fill="#9e6b3a"/>
<ellipse cx="1009.5" cy="532.8" rx="1.7" ry="1.3" fill="#9e6b3a"/>
<ellipse cx="1005.9" cy="533.7" rx="1.7" ry="1.3" fill="#9e6b3a"/>
<ellipse cx="1005.1" cy="530.1" rx="1.7" ry="1.3" fill="#9e6b3a"/>
<ellipse cx="1008.7" cy="529.3" rx="1.7" ry="1.3" fill="#9e6b3a"/>
<circle cx="1007.3" cy="531.5" r="1" fill="#9e6b3a"/>
<ellipse cx="1013.6" cy="550.2" rx="1.7" ry="1.3" fill="#9e6b3a"/>
<ellipse cx="1009.7" cy="550.5" rx="1.7" ry="1.3" fill="#9e6b3a"/>
<ellipse cx="1009.5" cy="546.9" rx="1.7" ry="1.3" fill="#9e6b3a"/>
<ellipse cx="1013.7" cy="547.2" rx="1.7" ry="1.3" fill="#9e6b3a"/>
<circle cx="1011.5" cy="548.6" r="1" fill="#9e6b3a"/>
<path d="M1028.6,679.5 Q1027.2,609.8 1024,540" stroke="#6fa452" stroke-width="1.1" fill="none"/>
<path d="M1024,540 L1017.9,511.3" stroke="#7aa85a" stroke-width="0.7"/>
<path d="M1024,540 L1025.4,507.0" stroke="#7aa85a" stroke-width="0.7"/>
<path d="M1024,540 L1028.6,518.7" stroke="#7aa85a" stroke-width="0.7"/>
<path d="M1024,540 L1020.0,527.3" stroke="#7aa85a" stroke-width="0.7"/>
<path d="M1024,540 L1030.7,528.3" stroke="#7aa85a" stroke-width="0.7"/>
<path d="M1024,540 L1026.4,535.8" stroke="#7aa85a" stroke-width="0.7"/>
<ellipse cx="1019.5" cy="513.3" rx="1.7" ry="1.3" fill="#9e6b3a"/>
<ellipse cx="1016.1" cy="513.2" rx="1.7" ry="1.3" fill="#9e6b3a"/>
<ellipse cx="1016.0" cy="509.5" rx="1.7" ry="1.3" fill="#9e6b3a"/>
<ellipse cx="1019.8" cy="509.5" rx="1.7" ry="1.3" fill="#9e6b3a"/>
<circle cx="1017.9" cy="511.3" r="1" fill="#9e6b3a"/>
<ellipse cx="1027.2" cy="508.9" rx="1.7" ry="1.3" fill="#9e6b3a"/>
<ellipse cx="1023.5" cy="508.8" rx="1.7" ry="1.3" fill="#9e6b3a"/>
<ellipse cx="1023.4" cy="505.4" rx="1.7" ry="1.3" fill="#9e6b3a"/>
<ellipse cx="1026.8" cy="504.8" rx="1.7" ry="1.3" fill="#9e6b3a"/>
<circle cx="1025.4" cy="507" r="1" fill="#9e6b3a"/>
<ellipse cx="1030.8" cy="520.0" rx="1.7" ry="1.3" fill="#9e6b3a"/>
<ellipse cx="1026.4" cy="520.0" rx="1.7" ry="1.3" fill="#9e6b3a"/>
<ellipse cx="1026.4" cy="517.3" rx="1.7" ry="1.3" fill="#9e6b3a"/>
<ellipse cx="1030.7" cy="517.1" rx="1.7" ry="1.3" fill="#9e6b3a"/>
<circle cx="1028.6" cy="518.7" r="1" fill="#9e6b3a"/>
<ellipse cx="1021.7" cy="529.3" rx="1.7" ry="1.3" fill="#9e6b3a"/>
<ellipse cx="1018.2" cy="529.2" rx="1.7" ry="1.3" fill="#9e6b3a"/>
<ellipse cx="1018.6" cy="525.1" rx="1.7" ry="1.3" fill="#9e6b3a"/>
<ellipse cx="1021.7" cy="525.3" rx="1.7" ry="1.3" fill="#9e6b3a"/>
<circle cx="1020" cy="527.3" r="1" fill="#9e6b3a"/>
<ellipse cx="1032.8" cy="529.8" rx="1.7" ry="1.3" fill="#9e6b3a"/>
<ellipse cx="1028.8" cy="530.0" rx="1.7" ry="1.3" fill="#9e6b3a"/>
<ellipse cx="1028.9" cy="526.4" rx="1.7" ry="1.3" fill="#9e6b3a"/>
<ellipse cx="1032.8" cy="526.7" rx="1.7" ry="1.3" fill="#9e6b3a"/>
<circle cx="1030.7" cy="528.3" r="1" fill="#9e6b3a"/>
<ellipse cx="1028.4" cy="537.5" rx="1.7" ry="1.3" fill="#9e6b3a"/>
<ellipse cx="1024.2" cy="537.2" rx="1.7" ry="1.3" fill="#9e6b3a"/>
<ellipse cx="1024.6" cy="534.0" rx="1.7" ry="1.3" fill="#9e6b3a"/>
<ellipse cx="1028.0" cy="533.7" rx="1.7" ry="1.3" fill="#9e6b3a"/>
<circle cx="1026.4" cy="535.8" r="1" fill="#9e6b3a"/>
<path d="M1028.6,679.5 Q1038.3,609.8 1061,540" stroke="#6fa452" stroke-width="1.1" fill="none"/>
<path d="M1061,540 L1057.3,516.6" stroke="#7aa85a" stroke-width="0.7"/>
<path d="M1061,540 L1068.0,511.3" stroke="#7aa85a" stroke-width="0.7"/>
<path d="M1061,540 L1057.3,528.3" stroke="#7aa85a" stroke-width="0.7"/>
<path d="M1061,540 L1069.0,528.3" stroke="#7aa85a" stroke-width="0.7"/>
<ellipse cx="1059.2" cy="518.3" rx="1.7" ry="1.3" fill="#9e6b3a"/>
<ellipse cx="1055.7" cy="518.7" rx="1.7" ry="1.3" fill="#9e6b3a"/>
<ellipse cx="1055.6" cy="514.6" rx="1.7" ry="1.3" fill="#9e6b3a"/>
<ellipse cx="1059.4" cy="515.1" rx="1.7" ry="1.3" fill="#9e6b3a"/>
<circle cx="1057.3" cy="516.6" r="1" fill="#9e6b3a"/>
<ellipse cx="1069.6" cy="513.4" rx="1.7" ry="1.3" fill="#9e6b3a"/>
<ellipse cx="1066.5" cy="513.4" rx="1.7" ry="1.3" fill="#9e6b3a"/>
<ellipse cx="1065.9" cy="509.8" rx="1.7" ry="1.3" fill="#9e6b3a"/>
<ellipse cx="1069.5" cy="509.2" rx="1.7" ry="1.3" fill="#9e6b3a"/>
<circle cx="1068" cy="511.3" r="1" fill="#9e6b3a"/>
<ellipse cx="1058.7" cy="530.5" rx="1.7" ry="1.3" fill="#9e6b3a"/>
<ellipse cx="1055.8" cy="530.4" rx="1.7" ry="1.3" fill="#9e6b3a"/>
<ellipse cx="1055.1" cy="526.8" rx="1.7" ry="1.3" fill="#9e6b3a"/>
<ellipse cx="1059.0" cy="526.3" rx="1.7" ry="1.3" fill="#9e6b3a"/>
<circle cx="1057.3" cy="528.3" r="1" fill="#9e6b3a"/>
<ellipse cx="1070.4" cy="530.5" rx="1.7" ry="1.3" fill="#9e6b3a"/>
<ellipse cx="1067.7" cy="530.5" rx="1.7" ry="1.3" fill="#9e6b3a"/>
<ellipse cx="1066.8" cy="526.9" rx="1.7" ry="1.3" fill="#9e6b3a"/>
<ellipse cx="1071.2" cy="527.0" rx="1.7" ry="1.3" fill="#9e6b3a"/>
<circle cx="1069" cy="528.3" r="1" fill="#9e6b3a"/>
<path d="M1190.9,674.2 Q1197.8,591.5 1208.0,540.8 Q1198.9,591.5 1192.8,674.2 Z" fill="#b59868" fill-opacity="1"/>
<path d="M1186.2,674.2 Q1190.0,589.3 1200.7,537.3 Q1191.0,589.3 1187.8,674.2 Z" fill="#cdb088" fill-opacity="1"/>
<path d="M1185.1,674.2 Q1196.1,596.7 1211.5,549.1 Q1197.4,596.7 1187.2,674.2 Z" fill="#cdb088" fill-opacity="1"/>
<path d="M1188.4,674.2 Q1190.6,582.1 1195.7,525.6 Q1191.7,582.1 1190.2,674.2 Z" fill="#cdb088" fill-opacity="1"/>
<path d="M1185.9,674.2 Q1167.5,599.3 1145.6,553.4 Q1168.9,599.3 1188.3,674.2 Z" fill="#cdb088" fill-opacity="1"/>
<path d="M1176.2,674.2 Q1171.6,587.5 1158.0,534.4 Q1172.8,587.5 1178.2,674.2 Z" fill="#b59868" fill-opacity="1"/>
<path d="M1191.2,674.2 Q1177.3,589.9 1162.8,538.2 Q1178.4,589.9 1193.1,674.2 Z" fill="#b8986a" fill-opacity="1"/>
<path d="M1187.6,674.2 Q1196.0,600.9 1214.6,556.0 Q1197.2,600.9 1189.5,674.2 Z" fill="#b8986a" fill-opacity="1"/>
<path d="M1186.5,674.2 Q1198.0,596.0 1212.4,548.0 Q1199.2,596.0 1188.4,674.2 Z" fill="#cdb088" fill-opacity="1"/>
<path d="M1186.4,674.2 Q1172.8,593.6 1160.5,544.2 Q1173.9,593.6 1188.2,674.2 Z" fill="#c4a676" fill-opacity="1"/>
<path d="M1188.7,674.2 Q1206.8,602.2 1227.7,558.1 Q1207.9,602.2 1190.6,674.2 Z" fill="#cdb088" fill-opacity="1"/>
<path d="M1181.4,674.2 Q1165.7,597.6 1141.8,550.6 Q1167.0,597.6 1183.6,674.2 Z" fill="#b59868" fill-opacity="1"/>
<path d="M1188.8,674.2 Q1168.9,596.9 1145.4,549.5 Q1170.2,596.9 1190.8,674.2 Z" fill="#b8986a" fill-opacity="1"/>
<path d="M1190.2,674.2 Q1201.5,602.2 1218.5,558.1 Q1202.9,602.2 1192.6,674.2 Z" fill="#b59868" fill-opacity="1"/>
<path d="M1184.3,674.2 Q1198.4,596.8 1218.1,549.4 Q1199.8,596.8 1186.6,674.2 Z" fill="#cdb088" fill-opacity="1"/>
<path d="M1179.9,674.2 Q1167.1,596.5 1155.2,548.9 Q1168.6,596.5 1182.3,674.2 Z" fill="#b59868" fill-opacity="1"/>
<path d="M1184.7,674.2 Q1187.1,580.9 1192.3,523.8 Q1188.4,580.9 1186.7,674.2 Z" fill="#cdb088" fill-opacity="1"/>
<path d="M1176.4,674.2 Q1180.7,584.7 1187.9,529.8 Q1181.9,584.7 1178.5,674.2 Z" fill="#c4a676" fill-opacity="1"/>
<path d="M1186.9,674.2 Q1195.8,590.7 1209.9,539.5 Q1197.2,590.7 1189.2,674.2 Z" fill="#c4a676" fill-opacity="1"/>
<path d="M1180.1,674.2 Q1195.8,596.7 1221.5,549.1 Q1196.9,596.7 1181.8,674.2 Z" fill="#b59868" fill-opacity="1"/>
<path d="M1181.1,674.2 Q1189.7,591.2 1213.8,540.4 Q1190.9,591.2 1183.0,674.2 Z" fill="#b8986a" fill-opacity="1"/>
<path d="M1176.7,674.2 Q1171.4,592.9 1165.2,543.0 Q1172.5,592.9 1178.5,674.2 Z" fill="#b8986a" fill-opacity="1"/>
<path d="M1177.5,674.2 Q1173.3,587.3 1168.0,534.0 Q1174.7,587.3 1179.8,674.2 Z" fill="#c4a676" fill-opacity="1"/>
<path d="M1176.2,674.2 Q1188.4,591.1 1204.2,540.1 Q1189.7,591.1 1178.5,674.2 Z" fill="#b59868" fill-opacity="1"/>
<path d="M1179.4,674.2 Q1184.4,584.0 1191.0,528.7 Q1185.7,584.0 1181.6,674.2 Z" fill="#b8986a" fill-opacity="1"/>
<path d="M1189.0,674.2 Q1196.9,596.0 1211.8,548.1 Q1198.0,596.0 1190.9,674.2 Z" fill="#b8986a" fill-opacity="1"/>
<path d="M1190.0,674.2 Q1198.0,602.7 1217.0,558.9 Q1199.4,602.7 1192.4,674.2 Z" fill="#b8986a" fill-opacity="1"/>
<path d="M1191.2,674.2 Q1171.9,596.4 1147.4,548.7 Q1173.0,596.4 1192.9,674.2 Z" fill="#b8986a" fill-opacity="1"/>
<path d="M1181.9,674.2 Q1191.6,591.3 1206.0,540.6 Q1192.6,591.3 1183.6,674.2 Z" fill="#cdb088" fill-opacity="1"/>
<path d="M1179.0,674.2 Q1186.1,590.7 1205.9,539.5 Q1187.3,590.7 1181.0,674.2 Z" fill="#c4a676" fill-opacity="1"/>
<path d="M1188.7,674.2 Q1176.3,599.4 1140.4,549.6" stroke="#b59868" stroke-width="1.36" fill="none" stroke-linecap="round"/>
<path d="M1180.9,674.2 Q1165.1,611.7 1148.0,570.0" stroke="#b8986a" stroke-width="1.83" fill="none" stroke-linecap="round"/>
<path d="M1179.3,674.2 Q1169.9,593.7 1156.0,540.0" stroke="#c4a676" stroke-width="1.36" fill="none" stroke-linecap="round"/>
<path d="M1179.1,674.2 Q1174.3,587.7 1165.0,530.0" stroke="#c4a676" stroke-width="1.46" fill="none" stroke-linecap="round"/>
<path d="M1185.2,674.2 Q1181.1,596.7 1172.0,545.0" stroke="#b59868" stroke-width="1.40" fill="none" stroke-linecap="round"/>
<path d="M1186.9,674.2 Q1188.9,584.7 1195.0,525.0" stroke="#c4a676" stroke-width="1.75" fill="none" stroke-linecap="round"/>
<path d="M1184.4,674.2 Q1189.7,593.7 1205.0,540.0" stroke="#cdb088" stroke-width="1.51" fill="none" stroke-linecap="round"/>
<path d="M1180.3,674.2 Q1188.1,605.7 1215.0,560.0" stroke="#c4a676" stroke-width="1.46" fill="none" stroke-linecap="round"/>
<path d="M1189.8,674.2 Q1199.0,589.2 1225.5,532.6" stroke="#b59868" stroke-width="1.60" fill="none" stroke-linecap="round"/>
<path d="M1186.2,674.2 Q1195.6,617.7 1220.0,580.0" stroke="#cdb088" stroke-width="1.73" fill="none" stroke-linecap="round"/>
<path d="M1190.8,674.2 Q1177.6,629.7 1150.0,600.0" stroke="#b8986a" stroke-width="1.74" fill="none" stroke-linecap="round"/>
<path d="M1190.6,674.2 Q1194.6,629.7 1200.0,600.0" stroke="#cdb088" stroke-width="1.71" fill="none" stroke-linecap="round"/>
<path d="M1185,674.2 Q1179.9,605.6 1168,537" stroke="#b59868" stroke-width="1.3" fill="none"/>
<path d="M1168,537 L1151.0,516.0" stroke="#b59868" stroke-width="0.8"/>
<path d="M1168,537 L1162.0,509.0" stroke="#b59868" stroke-width="0.8"/>
<path d="M1168,537 L1165.0,522.0" stroke="#b59868" stroke-width="0.8"/>
<ellipse cx="1152.9" cy="517.7" rx="1.7" ry="1.3" fill="#b79868"/>
<ellipse cx="1149.0" cy="517.6" rx="1.7" ry="1.3" fill="#b79868"/>
<ellipse cx="1148.8" cy="514.6" rx="1.7" ry="1.3" fill="#b79868"/>
<ellipse cx="1152.7" cy="514.0" rx="1.7" ry="1.3" fill="#b79868"/>
<circle cx="1151" cy="516" r="1" fill="#b79868"/>
<ellipse cx="1163.9" cy="510.8" rx="1.7" ry="1.3" fill="#b79868"/>
<ellipse cx="1160.7" cy="511.2" rx="1.7" ry="1.3" fill="#b79868"/>
<ellipse cx="1160.0" cy="507.3" rx="1.7" ry="1.3" fill="#b79868"/>
<ellipse cx="1164.0" cy="507.3" rx="1.7" ry="1.3" fill="#b79868"/>
<circle cx="1162" cy="509" r="1" fill="#b79868"/>
<ellipse cx="1166.7" cy="524.0" rx="1.7" ry="1.3" fill="#b79868"/>
<ellipse cx="1163.4" cy="524.1" rx="1.7" ry="1.3" fill="#b79868"/>
<ellipse cx="1163.6" cy="519.8" rx="1.7" ry="1.3" fill="#b79868"/>
<ellipse cx="1167.0" cy="520.3" rx="1.7" ry="1.3" fill="#b79868"/>
<circle cx="1165" cy="522" r="1" fill="#b79868"/>
<path d="M1185,674.2 Q1184.4,599.6 1183,525" stroke="#b59868" stroke-width="1.3" fill="none"/>
<path d="M1183,525 L1172.0,509.0" stroke="#b59868" stroke-width="0.8"/>
<path d="M1183,525 L1178.0,518.0" stroke="#b59868" stroke-width="0.8"/>
<path d="M1183,525 L1183.0,505.0" stroke="#b59868" stroke-width="0.8"/>
<path d="M1183,525 L1190.0,498.0" stroke="#b59868" stroke-width="0.8"/>
<path d="M1183,525 L1188.0,512.0" stroke="#b59868" stroke-width="0.8"/>
<ellipse cx="1174.0" cy="510.7" rx="1.7" ry="1.3" fill="#b79868"/>
<ellipse cx="1170.0" cy="510.7" rx="1.7" ry="1.3" fill="#b79868"/>
<ellipse cx="1170.2" cy="507.1" rx="1.7" ry="1.3" fill="#b79868"/>
<ellipse cx="1173.9" cy="507.2" rx="1.7" ry="1.3" fill="#b79868"/>
<circle cx="1172" cy="509" r="1" fill="#b79868"/>
<ellipse cx="1179.9" cy="519.7" rx="1.7" ry="1.3" fill="#b79868"/>
<ellipse cx="1175.7" cy="519.3" rx="1.7" ry="1.3" fill="#b79868"/>
<ellipse cx="1176.3" cy="516.0" rx="1.7" ry="1.3" fill="#b79868"/>
<ellipse cx="1180.0" cy="516.4" rx="1.7" ry="1.3" fill="#b79868"/>
<circle cx="1178" cy="518" r="1" fill="#b79868"/>
<ellipse cx="1184.6" cy="507.1" rx="1.7" ry="1.3" fill="#b79868"/>
<ellipse cx="1180.8" cy="506.3" rx="1.7" ry="1.3" fill="#b79868"/>
<ellipse cx="1180.8" cy="503.7" rx="1.7" ry="1.3" fill="#b79868"/>
<ellipse cx="1184.9" cy="503.3" rx="1.7" ry="1.3" fill="#b79868"/>
<circle cx="1183" cy="505" r="1" fill="#b79868"/>
<ellipse cx="1191.6" cy="500.1" rx="1.7" ry="1.3" fill="#b79868"/>
<ellipse cx="1188.4" cy="500.1" rx="1.7" ry="1.3" fill="#b79868"/>
<ellipse cx="1188.1" cy="496.3" rx="1.7" ry="1.3" fill="#b79868"/>
<ellipse cx="1191.4" cy="495.8" rx="1.7" ry="1.3" fill="#b79868"/>
<circle cx="1190" cy="498" r="1" fill="#b79868"/>
<ellipse cx="1190.1" cy="513.5" rx="1.7" ry="1.3" fill="#b79868"/>
<ellipse cx="1186.3" cy="514.0" rx="1.7" ry="1.3" fill="#b79868"/>
<ellipse cx="1185.8" cy="510.6" rx="1.7" ry="1.3" fill="#b79868"/>
<ellipse cx="1189.6" cy="509.9" rx="1.7" ry="1.3" fill="#b79868"/>
<circle cx="1188" cy="512" r="1" fill="#b79868"/>
<path d="M1185,674.2 Q1193.1,602.1 1212,530" stroke="#b59868" stroke-width="1.3" fill="none"/>
<path d="M1212,530 L1213.0,506.0" stroke="#b59868" stroke-width="0.8"/>
<path d="M1212,530 L1222.0,500.0" stroke="#b59868" stroke-width="0.8"/>
<path d="M1212,530 L1207.0,518.0" stroke="#b59868" stroke-width="0.8"/>
<path d="M1212,530 L1222.0,518.0" stroke="#b59868" stroke-width="0.8"/>
<ellipse cx="1214.4" cy="508.2" rx="1.7" ry="1.3" fill="#b79868"/>
<ellipse cx="1211.1" cy="507.8" rx="1.7" ry="1.3" fill="#b79868"/>
<ellipse cx="1211.2" cy="504.2" rx="1.7" ry="1.3" fill="#b79868"/>
<ellipse cx="1215.2" cy="504.7" rx="1.7" ry="1.3" fill="#b79868"/>
<circle cx="1213" cy="506" r="1" fill="#b79868"/>
<ellipse cx="1223.8" cy="501.9" rx="1.7" ry="1.3" fill="#b79868"/>
<ellipse cx="1219.8" cy="501.3" rx="1.7" ry="1.3" fill="#b79868"/>
<ellipse cx="1220.3" cy="498.0" rx="1.7" ry="1.3" fill="#b79868"/>
<ellipse cx="1224.1" cy="498.5" rx="1.7" ry="1.3" fill="#b79868"/>
<circle cx="1222" cy="500" r="1" fill="#b79868"/>
<ellipse cx="1209.2" cy="519.4" rx="1.7" ry="1.3" fill="#b79868"/>
<ellipse cx="1205.1" cy="519.7" rx="1.7" ry="1.3" fill="#b79868"/>
<ellipse cx="1205.4" cy="515.9" rx="1.7" ry="1.3" fill="#b79868"/>
<ellipse cx="1208.4" cy="515.8" rx="1.7" ry="1.3" fill="#b79868"/>
<circle cx="1207" cy="518" r="1" fill="#b79868"/>
<ellipse cx="1223.4" cy="520.2" rx="1.7" ry="1.3" fill="#b79868"/>
<ellipse cx="1220.5" cy="520.1" rx="1.7" ry="1.3" fill="#b79868"/>
<ellipse cx="1220.1" cy="516.2" rx="1.7" ry="1.3" fill="#b79868"/>
<ellipse cx="1223.5" cy="515.9" rx="1.7" ry="1.3" fill="#b79868"/>
<circle cx="1222" cy="518" r="1" fill="#b79868"/>
</g>
<g id="partc">
<line x1="0" y1="753.2" x2="1268" y2="753.2" stroke="#1c1412" stroke-width="2.2" stroke-dasharray="14.5,6.585" stroke-dashoffset="5.85" stroke-linecap="round"/>
<rect x="24" y="834" width="47" height="156" rx="12" fill="#e6d8c7"/>
<text transform="translate(57,912.6) rotate(-90)" font-size="23.6" font-weight="bold" text-anchor="middle">Hypotheses</text>
<text x="106.3" y="807.2" font-size="22.8" font-weight="bold">H1</text>
<text x="640" y="807.4" font-size="23.5" font-weight="bold">H2</text>
<path d="M164.7,795.5 V1025 H412.5 M179,1025 V1030 M370,1025 V1030" stroke="#333" stroke-width="1.3" fill="none"/>
<text transform="translate(139.3,936.8) rotate(-90)" font-size="22.6" text-anchor="middle">N cycling processes</text>
<text x="180.2" y="1050" font-size="22" text-anchor="middle">1</text>
<text x="369.5" y="1050" font-size="22" text-anchor="middle">n</text>
<text x="290" y="1078" font-size="23" text-anchor="middle">Plant diversity</text>
<line x1="175" y1="881" x2="393.5" y2="833.5" stroke="#1d7a8c" stroke-width="2.6"/>
<line x1="176" y1="896.5" x2="397.5" y2="910" stroke="#2e9e7a" stroke-width="2.6"/>
<line x1="176" y1="989" x2="397.5" y2="976.5" stroke="#e4a11e" stroke-width="2.6"/>
<text x="413" y="828" font-size="23.5" fill="#1d7a8c">Denittification</text>
<text x="413" y="916" font-size="23.5" fill="#2e9e7a">DNRA</text>
<text x="413" y="983" font-size="23.5" fill="#e4a11e">Anammox</text>
<path d="M792.20,813.70 A110.3,110.3 0 0 1 861.61,1009.72 L843.36,987.18 A81.3,81.3 0 0 0 792.20,842.70 Z" fill="#1a7b8b"/>
<path d="M861.61,1009.72 A110.3,110.3 0 0 1 689.93,882.68 L716.82,893.54 A81.3,81.3 0 0 0 843.36,987.18 Z" fill="#e4a21f"/>
<path d="M689.93,882.68 A110.3,110.3 0 0 1 792.20,813.70 L792.20,842.70 A81.3,81.3 0 0 0 716.82,893.54 Z" fill="#2f9e78"/>
<line x1="792.20" y1="844.70" x2="792.20" y2="811.70" stroke="#fff" stroke-width="3"/>
<line x1="842.11" y1="985.63" x2="862.87" y2="1011.27" stroke="#fff" stroke-width="3"/>
<line x1="718.67" y1="894.29" x2="688.08" y2="881.93" stroke="#fff" stroke-width="3"/>
<text x="796" y="922" font-size="23" text-anchor="middle">N cycling</text>
<text x="796" y="949.5" font-size="23" text-anchor="middle">processes</text>
<rect x="934" y="856.5" width="19" height="19.5" fill="#2f9e78"/>
<text x="960" y="872.5" font-size="23.4">Species diversity</text>
<rect x="934" y="909" width="19" height="19.5" fill="#e4a21f"/>
<text x="960" y="925" font-size="23.4">Phylogenetic diversity</text>
<rect x="934" y="968.5" width="19" height="19.5" fill="#1a7b8b"/>
<text x="960" y="984.5" font-size="23.4">Functional group diversity</text>
</g>
</svg></body></html>
